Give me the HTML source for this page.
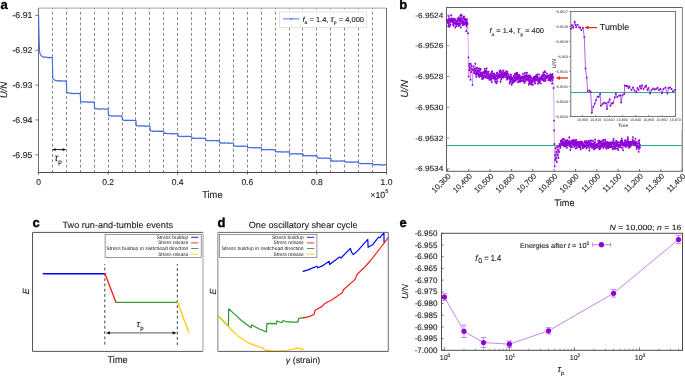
<!DOCTYPE html>
<html><head><meta charset="utf-8"><style>
html,body{margin:0;padding:0;background:#fff;}
svg{display:block;font-family:"Liberation Sans", sans-serif;will-change:transform;text-rendering:geometricPrecision;filter:blur(0.3px);}
text:not([font-weight]):not(.sm){stroke:#222;stroke-width:0.12px;}
</style></head><body>
<svg width="685" height="376" viewBox="0 0 685 376">
<text x="0.4" y="8.7" font-size="13" font-weight="bold" fill="#000" stroke="#000" stroke-width="0.35">a</text>
<line x1="52.50" y1="8.1" x2="52.50" y2="172.5" stroke="#777" stroke-width="0.9" stroke-dasharray="2.8 2.47" stroke-dashoffset="1.5"/>
<line x1="66.50" y1="8.1" x2="66.50" y2="172.5" stroke="#777" stroke-width="0.9" stroke-dasharray="2.8 2.47" stroke-dashoffset="1.5"/>
<line x1="80.50" y1="8.1" x2="80.50" y2="172.5" stroke="#777" stroke-width="0.9" stroke-dasharray="2.8 2.47" stroke-dashoffset="1.5"/>
<line x1="94.50" y1="8.1" x2="94.50" y2="172.5" stroke="#777" stroke-width="0.9" stroke-dasharray="2.8 2.47" stroke-dashoffset="1.5"/>
<line x1="108.50" y1="8.1" x2="108.50" y2="172.5" stroke="#777" stroke-width="0.9" stroke-dasharray="2.8 2.47" stroke-dashoffset="1.5"/>
<line x1="122.50" y1="8.1" x2="122.50" y2="172.5" stroke="#777" stroke-width="0.9" stroke-dasharray="2.8 2.47" stroke-dashoffset="1.5"/>
<line x1="135.50" y1="8.1" x2="135.50" y2="172.5" stroke="#777" stroke-width="0.9" stroke-dasharray="2.8 2.47" stroke-dashoffset="1.5"/>
<line x1="149.50" y1="8.1" x2="149.50" y2="172.5" stroke="#777" stroke-width="0.9" stroke-dasharray="2.8 2.47" stroke-dashoffset="1.5"/>
<line x1="163.50" y1="8.1" x2="163.50" y2="172.5" stroke="#777" stroke-width="0.9" stroke-dasharray="2.8 2.47" stroke-dashoffset="1.5"/>
<line x1="177.50" y1="8.1" x2="177.50" y2="172.5" stroke="#777" stroke-width="0.9" stroke-dasharray="2.8 2.47" stroke-dashoffset="1.5"/>
<line x1="191.50" y1="8.1" x2="191.50" y2="172.5" stroke="#777" stroke-width="0.9" stroke-dasharray="2.8 2.47" stroke-dashoffset="1.5"/>
<line x1="205.50" y1="8.1" x2="205.50" y2="172.5" stroke="#777" stroke-width="0.9" stroke-dasharray="2.8 2.47" stroke-dashoffset="1.5"/>
<line x1="219.50" y1="8.1" x2="219.50" y2="172.5" stroke="#777" stroke-width="0.9" stroke-dasharray="2.8 2.47" stroke-dashoffset="1.5"/>
<line x1="233.50" y1="8.1" x2="233.50" y2="172.5" stroke="#777" stroke-width="0.9" stroke-dasharray="2.8 2.47" stroke-dashoffset="1.5"/>
<line x1="247.50" y1="8.1" x2="247.50" y2="172.5" stroke="#777" stroke-width="0.9" stroke-dasharray="2.8 2.47" stroke-dashoffset="1.5"/>
<line x1="261.50" y1="8.1" x2="261.50" y2="172.5" stroke="#777" stroke-width="0.9" stroke-dasharray="2.8 2.47" stroke-dashoffset="1.5"/>
<line x1="275.50" y1="8.1" x2="275.50" y2="172.5" stroke="#777" stroke-width="0.9" stroke-dasharray="2.8 2.47" stroke-dashoffset="1.5"/>
<line x1="289.50" y1="8.1" x2="289.50" y2="172.5" stroke="#777" stroke-width="0.9" stroke-dasharray="2.8 2.47" stroke-dashoffset="1.5"/>
<line x1="302.50" y1="8.1" x2="302.50" y2="172.5" stroke="#777" stroke-width="0.9" stroke-dasharray="2.8 2.47" stroke-dashoffset="1.5"/>
<line x1="316.50" y1="8.1" x2="316.50" y2="172.5" stroke="#777" stroke-width="0.9" stroke-dasharray="2.8 2.47" stroke-dashoffset="1.5"/>
<line x1="330.50" y1="8.1" x2="330.50" y2="172.5" stroke="#777" stroke-width="0.9" stroke-dasharray="2.8 2.47" stroke-dashoffset="1.5"/>
<line x1="344.50" y1="8.1" x2="344.50" y2="172.5" stroke="#777" stroke-width="0.9" stroke-dasharray="2.8 2.47" stroke-dashoffset="1.5"/>
<line x1="358.50" y1="8.1" x2="358.50" y2="172.5" stroke="#777" stroke-width="0.9" stroke-dasharray="2.8 2.47" stroke-dashoffset="1.5"/>
<line x1="372.50" y1="8.1" x2="372.50" y2="172.5" stroke="#777" stroke-width="0.9" stroke-dasharray="2.8 2.47" stroke-dashoffset="1.5"/>
<rect x="279.5" y="12" width="87" height="15.5" fill="#fff" stroke="#d0d0d0" stroke-width="0.6"/>
<line x1="283" y1="18.9" x2="299.5" y2="18.9" stroke="#4169e1" stroke-width="0.9"/>
<circle cx="291.2" cy="18.9" r="0.8" fill="#4169e1"/>
<text x="302.5" y="21.7" font-size="7.2" fill="#222" textLength="61.5" lengthAdjust="spacingAndGlyphs"><tspan font-style="italic">f</tspan><tspan font-size="4.8" dy="2.3">a</tspan><tspan dy="-2.3"> = 1.4, </tspan><tspan font-style="italic" font-size="8.5">τ</tspan><tspan font-size="4.8" dy="2.3">p</tspan><tspan dy="-2.3"> = 4,000</tspan></text>
<line x1="38.5" y1="8.1" x2="386.5" y2="8.1" stroke="#b4b4b4" stroke-width="1.4"/>
<line x1="386.5" y1="8.1" x2="386.5" y2="172.5" stroke="#707070" stroke-width="1"/>
<line x1="38.5" y1="8.1" x2="38.5" y2="172.5" stroke="#707070" stroke-width="1"/>
<line x1="38.0" y1="172.5" x2="387.0" y2="172.5" stroke="#4a4a4a" stroke-width="1"/>
<path d="M38.60,14.80 L38.90,30.00 L39.20,42.00 L39.50,50.00 L39.80,52.60 L40.30,54.40 L41.20,55.80 L42.50,56.80 L43.00,56.99 L43.30,56.92 L43.60,57.24 L43.90,56.92 L44.20,57.22 L44.50,57.14 L44.80,56.98 L45.10,57.28 L45.40,57.02 L45.70,57.29 L46.00,57.09 L46.30,57.13 L46.60,57.35 L46.90,57.62 L47.20,57.22 L47.50,57.31 L47.80,57.58 L48.10,57.79 L48.40,57.60 L48.70,57.51 L49.00,57.89 L49.30,57.33 L49.60,57.82 L49.90,57.47 L50.20,57.39 L50.50,57.37 L50.80,57.49 L51.10,57.79 L51.40,57.41 L51.70,57.65 L52.00,57.68 L52.30,57.52 L52.82,78.73 L53.16,78.80 L53.50,79.10 L53.83,79.44 L54.17,79.94 L54.51,79.97 L54.85,80.05 L55.19,80.35 L55.52,80.38 L55.86,80.38 L56.20,80.75 L56.54,80.76 L56.88,80.54 L57.21,80.79 L57.55,80.80 L57.89,81.04 L58.23,80.98 L58.57,80.74 L58.90,81.18 L59.24,80.68 L59.58,80.87 L59.92,81.09 L60.26,80.74 L60.59,80.95 L60.93,80.68 L61.27,81.07 L61.61,81.13 L61.95,81.02 L62.28,81.21 L62.62,80.87 L62.96,81.10 L63.30,81.04 L63.64,81.04 L63.97,80.97 L64.31,81.20 L64.65,81.26 L64.99,80.98 L65.33,81.09 L65.66,80.73 L66.00,81.12 L66.34,81.09 L66.74,92.57 L67.08,92.66 L67.42,92.49 L67.75,92.69 L68.09,92.98 L68.43,92.69 L68.77,93.03 L69.11,92.92 L69.44,92.95 L69.78,92.97 L70.12,93.43 L70.46,93.09 L70.80,93.19 L71.13,93.30 L71.47,93.61 L71.81,93.15 L72.15,93.39 L72.49,93.46 L72.82,93.67 L73.16,93.64 L73.50,93.68 L73.84,93.33 L74.18,93.42 L74.51,93.39 L74.85,93.71 L75.19,93.76 L75.53,93.28 L75.87,93.29 L76.20,93.33 L76.54,93.33 L76.88,93.48 L77.22,93.55 L77.56,93.35 L77.89,93.20 L78.23,93.45 L78.57,93.42 L78.91,93.54 L79.25,93.77 L79.58,93.61 L79.92,93.51 L80.26,93.57 L80.66,101.45 L81.00,101.21 L81.34,101.83 L81.67,101.85 L82.01,101.99 L82.35,102.01 L82.69,101.83 L83.03,101.88 L83.36,101.74 L83.70,102.09 L84.04,101.78 L84.38,101.81 L84.72,101.91 L85.05,101.90 L85.39,102.02 L85.73,101.86 L86.07,101.84 L86.41,101.94 L86.74,101.92 L87.08,102.08 L87.42,101.89 L87.76,102.40 L88.10,102.25 L88.43,101.97 L88.77,102.04 L89.11,102.10 L89.45,102.11 L89.79,101.96 L90.12,102.40 L90.46,102.49 L90.80,102.17 L91.14,102.19 L91.48,101.95 L91.81,101.96 L92.15,102.10 L92.49,102.06 L92.83,102.40 L93.17,102.00 L93.50,101.91 L93.84,102.47 L94.18,102.22 L94.58,108.12 L94.92,108.46 L95.26,108.24 L95.59,108.61 L95.93,108.95 L96.27,108.93 L96.61,108.88 L96.95,108.65 L97.28,108.75 L97.62,108.65 L97.96,109.04 L98.30,108.92 L98.64,109.08 L98.97,108.82 L99.31,108.77 L99.65,109.13 L99.99,109.25 L100.33,109.17 L100.66,109.15 L101.00,109.16 L101.34,109.12 L101.68,108.82 L102.02,108.99 L102.35,108.90 L102.69,108.71 L103.03,108.71 L103.37,108.86 L103.71,108.85 L104.04,109.11 L104.38,109.27 L104.72,108.96 L105.06,109.26 L105.40,109.29 L105.73,109.27 L106.07,108.92 L106.41,108.83 L106.75,108.83 L107.09,108.82 L107.42,108.82 L107.76,109.07 L108.10,109.24 L108.50,115.52 L108.84,115.41 L109.18,115.60 L109.51,115.77 L109.85,115.40 L110.19,115.80 L110.53,116.00 L110.87,115.96 L111.20,115.97 L111.54,115.84 L111.88,115.68 L112.22,116.07 L112.56,115.81 L112.89,116.10 L113.23,116.22 L113.57,115.88 L113.91,115.89 L114.25,116.23 L114.58,116.10 L114.92,115.77 L115.26,115.75 L115.60,115.77 L115.94,116.23 L116.27,116.17 L116.61,115.78 L116.95,116.19 L117.29,116.28 L117.63,116.09 L117.96,115.90 L118.30,116.02 L118.64,115.77 L118.98,115.70 L119.32,116.28 L119.65,116.09 L119.99,116.01 L120.33,116.26 L120.67,115.96 L121.01,116.22 L121.34,116.19 L121.68,115.83 L122.02,115.85 L122.42,119.84 L122.76,119.88 L123.10,120.14 L123.43,120.00 L123.77,120.13 L124.11,119.99 L124.45,120.49 L124.79,120.18 L125.12,120.26 L125.46,120.36 L125.80,120.56 L126.14,120.29 L126.48,120.59 L126.81,120.35 L127.15,120.38 L127.49,120.38 L127.83,120.08 L128.17,120.34 L128.50,120.19 L128.84,120.08 L129.18,120.56 L129.52,120.19 L129.86,120.37 L130.19,120.53 L130.53,120.43 L130.87,120.29 L131.21,120.41 L131.55,120.43 L131.88,120.57 L132.22,120.16 L132.56,120.43 L132.90,120.25 L133.24,120.26 L133.57,120.56 L133.91,120.40 L134.25,120.44 L134.59,120.56 L134.93,120.65 L135.26,120.37 L135.60,120.47 L135.94,120.40 L136.34,125.46 L136.68,125.65 L137.02,125.58 L137.35,125.69 L137.69,125.71 L138.03,126.03 L138.37,125.92 L138.71,126.06 L139.04,126.12 L139.38,125.74 L139.72,125.93 L140.06,126.18 L140.40,126.13 L140.73,125.72 L141.07,125.72 L141.41,125.92 L141.75,125.71 L142.09,125.81 L142.42,125.72 L142.76,126.08 L143.10,126.15 L143.44,126.22 L143.78,125.78 L144.11,126.12 L144.45,126.09 L144.79,125.78 L145.13,126.22 L145.47,126.27 L145.80,125.83 L146.14,126.27 L146.48,125.94 L146.82,125.99 L147.16,126.29 L147.49,126.20 L147.83,125.80 L148.17,125.96 L148.51,126.01 L148.85,125.90 L149.18,125.82 L149.52,125.89 L149.86,126.13 L150.26,130.49 L150.60,130.89 L150.94,130.89 L151.27,130.70 L151.61,130.93 L151.95,131.15 L152.29,131.12 L152.63,130.88 L152.96,131.46 L153.30,131.36 L153.64,131.49 L153.98,130.98 L154.32,131.09 L154.65,130.97 L154.99,131.42 L155.33,131.12 L155.67,131.04 L156.01,131.22 L156.34,131.52 L156.68,131.47 L157.02,131.14 L157.36,131.07 L157.70,131.54 L158.03,131.33 L158.37,131.41 L158.71,131.05 L159.05,131.03 L159.39,131.41 L159.72,131.25 L160.06,131.04 L160.40,131.56 L160.74,131.38 L161.08,131.48 L161.41,131.05 L161.75,131.51 L162.09,131.04 L162.43,131.52 L162.77,131.27 L163.10,131.20 L163.44,131.33 L163.78,131.56 L164.18,133.32 L164.52,133.28 L164.86,133.55 L165.19,133.40 L165.53,133.35 L165.87,133.40 L166.21,133.34 L166.55,133.45 L166.88,133.53 L167.22,133.53 L167.56,133.81 L167.90,133.54 L168.24,133.67 L168.57,133.48 L168.91,133.59 L169.25,133.39 L169.59,133.53 L169.93,133.40 L170.26,133.83 L170.60,133.72 L170.94,133.51 L171.28,133.68 L171.62,133.96 L171.95,133.46 L172.29,133.89 L172.63,133.66 L172.97,133.69 L173.31,133.90 L173.64,133.63 L173.98,133.70 L174.32,133.81 L174.66,133.99 L175.00,133.60 L175.33,133.90 L175.67,133.82 L176.01,133.78 L176.35,133.64 L176.69,133.61 L177.02,133.43 L177.36,133.48 L177.70,133.44 L178.10,136.37 L178.44,136.12 L178.78,136.10 L179.11,136.09 L179.45,136.56 L179.79,136.60 L180.13,136.50 L180.47,136.28 L180.80,136.27 L181.14,136.32 L181.48,136.42 L181.82,136.25 L182.16,136.43 L182.49,136.33 L182.83,136.75 L183.17,136.76 L183.51,136.51 L183.85,136.33 L184.18,136.77 L184.52,136.37 L184.86,136.40 L185.20,136.19 L185.54,136.42 L185.87,136.48 L186.21,136.50 L186.55,136.32 L186.89,136.50 L187.23,136.20 L187.56,136.36 L187.90,136.25 L188.24,136.44 L188.58,136.22 L188.92,136.21 L189.25,136.38 L189.59,136.34 L189.93,136.55 L190.27,136.52 L190.61,136.65 L190.94,136.59 L191.28,136.63 L191.62,136.73 L192.02,138.06 L192.36,138.05 L192.70,138.46 L193.03,137.98 L193.37,138.34 L193.71,138.31 L194.05,137.96 L194.39,138.45 L194.72,138.49 L195.06,138.34 L195.40,138.41 L195.74,138.46 L196.08,138.06 L196.41,138.29 L196.75,138.29 L197.09,138.49 L197.43,138.47 L197.77,138.49 L198.10,138.34 L198.44,138.53 L198.78,138.40 L199.12,138.41 L199.46,138.13 L199.79,138.02 L200.13,138.08 L200.47,138.21 L200.81,138.06 L201.15,138.50 L201.48,138.33 L201.82,138.38 L202.16,138.37 L202.50,138.41 L202.84,138.29 L203.17,138.00 L203.51,138.48 L203.85,138.45 L204.19,138.30 L204.53,138.32 L204.86,138.40 L205.20,138.04 L205.54,138.44 L205.94,140.32 L206.28,140.25 L206.62,140.39 L206.95,140.70 L207.29,140.40 L207.63,140.74 L207.97,140.90 L208.31,140.62 L208.64,140.57 L208.98,140.64 L209.32,140.77 L209.66,140.82 L210.00,140.74 L210.33,140.76 L210.67,140.42 L211.01,140.47 L211.35,140.54 L211.69,140.83 L212.02,140.57 L212.36,140.73 L212.70,140.40 L213.04,140.43 L213.38,140.56 L213.71,140.80 L214.05,140.81 L214.39,140.80 L214.73,140.57 L215.07,140.71 L215.40,140.68 L215.74,140.68 L216.08,140.47 L216.42,140.93 L216.76,140.52 L217.09,140.99 L217.43,140.96 L217.77,140.41 L218.11,140.67 L218.45,140.89 L218.78,140.98 L219.12,140.67 L219.46,140.56 L219.86,142.69 L220.20,143.17 L220.54,142.76 L220.87,143.01 L221.21,142.77 L221.55,143.01 L221.89,143.29 L222.23,142.81 L222.56,143.23 L222.90,143.05 L223.24,143.29 L223.58,143.19 L223.92,142.91 L224.25,143.31 L224.59,143.07 L224.93,142.80 L225.27,142.79 L225.61,143.08 L225.94,143.06 L226.28,142.97 L226.62,142.88 L226.96,143.00 L227.30,142.98 L227.63,143.30 L227.97,142.80 L228.31,143.25 L228.65,143.30 L228.99,142.87 L229.32,143.35 L229.66,143.23 L230.00,143.34 L230.34,142.97 L230.68,143.02 L231.01,143.03 L231.35,143.40 L231.69,143.15 L232.03,143.02 L232.37,143.06 L232.70,142.96 L233.04,142.83 L233.38,142.86 L233.78,146.10 L234.12,145.81 L234.46,146.24 L234.79,145.87 L235.13,145.90 L235.47,146.08 L235.81,145.90 L236.15,146.03 L236.48,146.39 L236.82,146.36 L237.16,146.33 L237.50,146.23 L237.84,146.41 L238.17,146.43 L238.51,146.20 L238.85,146.31 L239.19,145.91 L239.53,146.32 L239.86,146.16 L240.20,146.34 L240.54,146.28 L240.88,146.06 L241.22,145.92 L241.55,146.45 L241.89,145.97 L242.23,146.18 L242.57,146.10 L242.91,146.08 L243.24,146.34 L243.58,146.48 L243.92,146.05 L244.26,146.29 L244.60,146.08 L244.93,146.23 L245.27,146.14 L245.61,146.00 L245.95,146.00 L246.29,146.02 L246.62,146.44 L246.96,146.20 L247.30,146.03 L247.70,147.84 L248.04,147.92 L248.38,147.61 L248.71,147.44 L249.05,147.49 L249.39,147.44 L249.73,147.60 L250.07,147.46 L250.40,147.55 L250.74,147.57 L251.08,147.76 L251.42,147.96 L251.76,147.88 L252.09,147.68 L252.43,147.68 L252.77,147.75 L253.11,147.67 L253.45,147.64 L253.78,147.48 L254.12,147.61 L254.46,148.03 L254.80,147.52 L255.14,147.75 L255.47,147.82 L255.81,147.97 L256.15,147.58 L256.49,147.61 L256.83,147.60 L257.16,147.69 L257.50,147.72 L257.84,148.02 L258.18,147.96 L258.52,147.97 L258.85,147.46 L259.19,147.47 L259.53,147.88 L259.87,147.99 L260.21,147.73 L260.54,147.80 L260.88,147.45 L261.22,147.68 L261.62,149.76 L261.96,149.73 L262.30,149.78 L262.63,149.87 L262.97,149.45 L263.31,149.38 L263.65,149.42 L263.99,149.65 L264.32,149.76 L264.66,149.92 L265.00,149.80 L265.34,149.76 L265.68,149.83 L266.01,149.65 L266.35,149.71 L266.69,149.41 L267.03,149.86 L267.37,149.53 L267.70,149.94 L268.04,149.78 L268.38,149.58 L268.72,149.47 L269.06,149.55 L269.39,149.78 L269.73,149.82 L270.07,149.46 L270.41,149.44 L270.75,149.71 L271.08,149.75 L271.42,149.63 L271.76,149.53 L272.10,149.76 L272.44,149.41 L272.77,149.58 L273.11,149.68 L273.45,149.97 L273.79,149.79 L274.13,149.93 L274.46,149.68 L274.80,149.54 L275.14,149.55 L275.54,151.96 L275.88,151.84 L276.22,151.63 L276.55,151.48 L276.89,151.79 L277.23,151.91 L277.57,151.77 L277.91,151.69 L278.24,151.94 L278.58,152.11 L278.92,151.70 L279.26,151.59 L279.60,151.77 L279.93,151.83 L280.27,151.99 L280.61,151.70 L280.95,152.06 L281.29,152.03 L281.62,151.89 L281.96,151.71 L282.30,152.17 L282.64,151.78 L282.98,152.09 L283.31,151.73 L283.65,151.73 L283.99,152.05 L284.33,151.77 L284.67,152.17 L285.00,151.90 L285.34,151.71 L285.68,151.73 L286.02,151.85 L286.36,152.00 L286.69,152.17 L287.03,151.69 L287.37,151.84 L287.71,151.73 L288.05,152.18 L288.38,151.68 L288.72,151.63 L289.06,151.64 L289.46,153.64 L289.80,153.97 L290.14,153.99 L290.47,153.92 L290.81,154.10 L291.15,154.07 L291.49,153.73 L291.83,153.65 L292.16,154.11 L292.50,154.00 L292.84,153.58 L293.18,153.97 L293.52,153.80 L293.85,153.80 L294.19,153.78 L294.53,153.69 L294.87,153.59 L295.21,153.76 L295.54,153.80 L295.88,154.17 L296.22,153.67 L296.56,154.17 L296.90,153.72 L297.23,153.81 L297.57,154.09 L297.91,154.09 L298.25,153.86 L298.59,153.63 L298.92,153.88 L299.26,153.82 L299.60,154.15 L299.94,153.71 L300.28,153.82 L300.61,154.14 L300.95,153.62 L301.29,153.85 L301.63,154.09 L301.97,154.06 L302.30,153.62 L302.64,153.62 L302.98,153.64 L303.38,155.78 L303.72,155.40 L304.06,155.72 L304.39,155.83 L304.73,155.51 L305.07,155.49 L305.41,155.91 L305.75,155.72 L306.08,155.51 L306.42,155.79 L306.76,155.56 L307.10,155.54 L307.44,155.38 L307.77,155.83 L308.11,155.93 L308.45,155.77 L308.79,155.95 L309.13,155.40 L309.46,155.53 L309.80,155.68 L310.14,155.97 L310.48,155.97 L310.82,155.63 L311.15,155.55 L311.49,155.65 L311.83,155.69 L312.17,155.95 L312.51,155.51 L312.84,155.88 L313.18,155.84 L313.52,155.89 L313.86,155.86 L314.20,155.76 L314.53,155.60 L314.87,155.59 L315.21,155.62 L315.55,155.87 L315.89,155.45 L316.22,155.52 L316.56,155.85 L316.90,155.55 L317.30,157.69 L317.64,157.71 L317.98,158.06 L318.31,157.95 L318.65,158.36 L318.99,158.32 L319.33,158.40 L319.67,157.98 L320.00,157.89 L320.34,157.90 L320.68,158.15 L321.02,158.29 L321.36,158.14 L321.69,158.01 L322.03,158.13 L322.37,158.25 L322.71,158.29 L323.05,158.33 L323.38,158.40 L323.72,158.29 L324.06,157.96 L324.40,158.40 L324.74,158.07 L325.07,158.24 L325.41,158.12 L325.75,158.34 L326.09,158.02 L326.43,158.05 L326.76,158.05 L327.10,157.99 L327.44,158.43 L327.78,158.25 L328.12,158.09 L328.45,158.14 L328.79,158.49 L329.13,158.20 L329.47,158.04 L329.81,158.38 L330.14,158.29 L330.48,158.49 L330.82,157.96 L331.22,160.80 L331.56,161.05 L331.90,161.10 L332.23,161.18 L332.57,160.68 L332.91,160.85 L333.25,160.77 L333.59,160.83 L333.92,161.31 L334.26,161.09 L334.60,161.31 L334.94,160.98 L335.28,161.28 L335.61,161.04 L335.95,160.93 L336.29,161.24 L336.63,161.35 L336.97,160.85 L337.30,161.14 L337.64,161.16 L337.98,160.92 L338.32,161.01 L338.66,160.88 L338.99,160.92 L339.33,160.95 L339.67,161.16 L340.01,161.19 L340.35,160.92 L340.68,160.80 L341.02,160.99 L341.36,161.21 L341.70,160.91 L342.04,160.99 L342.37,160.92 L342.71,161.28 L343.05,161.13 L343.39,160.84 L343.73,160.86 L344.06,161.04 L344.40,161.13 L344.74,161.18 L345.14,161.76 L345.48,161.82 L345.82,162.15 L346.15,161.99 L346.49,161.92 L346.83,161.94 L347.17,162.34 L347.51,161.96 L347.84,162.11 L348.18,161.99 L348.52,162.03 L348.86,162.30 L349.20,162.39 L349.53,162.01 L349.87,161.91 L350.21,162.23 L350.55,161.92 L350.89,161.80 L351.22,162.34 L351.56,162.05 L351.90,162.29 L352.24,162.04 L352.58,162.33 L352.91,162.07 L353.25,161.90 L353.59,161.81 L353.93,162.13 L354.27,162.18 L354.60,162.35 L354.94,161.85 L355.28,162.17 L355.62,162.02 L355.96,162.10 L356.29,161.89 L356.63,161.97 L356.97,162.11 L357.31,162.36 L357.65,161.87 L357.98,162.09 L358.32,162.28 L358.66,162.38 L359.06,163.27 L359.40,163.25 L359.74,163.76 L360.07,163.80 L360.41,163.51 L360.75,163.27 L361.09,163.80 L361.43,163.49 L361.76,163.80 L362.10,163.64 L362.44,163.77 L362.78,163.37 L363.12,163.75 L363.45,163.42 L363.79,163.53 L364.13,163.80 L364.47,163.79 L364.81,163.40 L365.14,163.42 L365.48,163.53 L365.82,163.61 L366.16,163.53 L366.50,163.37 L366.83,163.45 L367.17,163.73 L367.51,163.84 L367.85,163.32 L368.19,163.64 L368.52,163.75 L368.86,163.32 L369.20,163.80 L369.54,163.37 L369.88,163.66 L370.21,163.63 L370.55,163.68 L370.89,163.48 L371.23,163.55 L371.57,163.65 L371.90,163.56 L372.24,163.70 L372.58,163.57 L372.98,164.65 L373.29,164.41 L373.61,164.79 L373.92,164.72 L374.23,164.58 L374.54,164.90 L374.86,164.92 L375.17,164.74 L375.48,164.57 L375.80,164.76 L376.11,164.54 L376.42,164.56 L376.74,164.74 L377.05,164.54 L377.36,164.75 L377.67,164.79 L377.99,164.51 L378.30,164.87 L378.61,164.54 L378.93,164.93 L379.24,164.96 L379.55,164.80 L379.87,164.53 L380.18,164.80 L380.49,164.72 L380.80,165.07 L381.12,164.58 L381.43,165.01 L381.74,165.10 L382.06,164.94 L382.37,164.99 L382.68,164.62 L383.00,165.09 L383.31,164.79 L383.62,165.07 L383.94,165.05 L384.25,164.60 L384.56,164.97 L384.87,165.06 L385.19,164.54 L385.50,164.71" fill="none" stroke="#4169e1" stroke-width="1.1" stroke-linejoin="round" stroke-linecap="round" />
<line x1="35.3" y1="15.40" x2="38.5" y2="15.40" stroke="#707070" stroke-width="0.9"/>
<text x="32.4" y="18.15" font-size="8.5" fill="#222" text-anchor="end" textLength="20.0" lengthAdjust="spacingAndGlyphs" >-6.91</text>
<line x1="35.3" y1="50.25" x2="38.5" y2="50.25" stroke="#707070" stroke-width="0.9"/>
<text x="32.4" y="53.00" font-size="8.5" fill="#222" text-anchor="end" textLength="20.0" lengthAdjust="spacingAndGlyphs" >-6.92</text>
<line x1="35.3" y1="85.10" x2="38.5" y2="85.10" stroke="#707070" stroke-width="0.9"/>
<text x="32.4" y="87.85" font-size="8.5" fill="#222" text-anchor="end" textLength="20.0" lengthAdjust="spacingAndGlyphs" >-6.93</text>
<line x1="35.3" y1="119.95" x2="38.5" y2="119.95" stroke="#707070" stroke-width="0.9"/>
<text x="32.4" y="122.70" font-size="8.5" fill="#222" text-anchor="end" textLength="20.0" lengthAdjust="spacingAndGlyphs" >-6.94</text>
<line x1="35.3" y1="154.80" x2="38.5" y2="154.80" stroke="#707070" stroke-width="0.9"/>
<text x="32.4" y="157.55" font-size="8.5" fill="#222" text-anchor="end" textLength="20.0" lengthAdjust="spacingAndGlyphs" >-6.95</text>
<line x1="38.50" y1="172.5" x2="38.50" y2="174.5" stroke="#4a4a4a" stroke-width="0.9"/>
<text x="38.50" y="185" font-size="8.5" fill="#222" text-anchor="middle" >0</text>
<line x1="108.10" y1="172.5" x2="108.10" y2="174.5" stroke="#4a4a4a" stroke-width="0.9"/>
<text x="108.10" y="185" font-size="8.5" fill="#222" text-anchor="middle" >0.2</text>
<line x1="177.70" y1="172.5" x2="177.70" y2="174.5" stroke="#4a4a4a" stroke-width="0.9"/>
<text x="177.70" y="185" font-size="8.5" fill="#222" text-anchor="middle" >0.4</text>
<line x1="247.30" y1="172.5" x2="247.30" y2="174.5" stroke="#4a4a4a" stroke-width="0.9"/>
<text x="247.30" y="185" font-size="8.5" fill="#222" text-anchor="middle" >0.6</text>
<line x1="316.90" y1="172.5" x2="316.90" y2="174.5" stroke="#4a4a4a" stroke-width="0.9"/>
<text x="316.90" y="185" font-size="8.5" fill="#222" text-anchor="middle" >0.8</text>
<line x1="386.50" y1="172.5" x2="386.50" y2="174.5" stroke="#4a4a4a" stroke-width="0.9"/>
<text x="386.50" y="185" font-size="8.5" fill="#222" text-anchor="middle" >1.0</text>
<text x="202.2" y="197.9" font-size="9.9" fill="#222" text-anchor="start" textLength="20.4" lengthAdjust="spacingAndGlyphs" >Time</text>
<text x="370.3" y="197.9" font-size="8.8" fill="#222">×10<tspan font-size="5.8" dy="-4.7">5</tspan></text>
<text transform="translate(6.8,90.1) rotate(-90)" font-size="9.5" font-style="italic" fill="#222" text-anchor="middle">U/N</text>
<line x1="54" y1="149.6" x2="64.5" y2="149.6" stroke="#000" stroke-width="0.9"/>
<path d="M52.2,149.6 L55.6,148.2 L55.6,151 Z M66.1,149.6 L62.7,148.2 L62.7,151 Z" fill="#000"/>
<text x="54.5" y="161.1" font-size="10" font-style="italic" fill="#111">τ<tspan font-style="normal" font-size="6.4" dy="2.6">p</tspan></text>
<text x="399.3" y="9" font-size="13" font-weight="bold" fill="#000" stroke="#000" stroke-width="0.35">b</text>
<rect x="446.5" y="7.5" width="235.70000000000005" height="163.8" fill="none" stroke="#606060" stroke-width="1"/>
<line x1="446.5" y1="145.5" x2="682.2" y2="145.5" stroke="#2fa88e" stroke-width="1.1"/>
<path d="M447.00,19.78 L447.19,20.23 L447.38,20.22 L447.57,20.78 L447.76,22.92 L447.95,20.63 L448.14,21.32 L448.33,26.51 L448.52,16.07 L448.71,25.31 L448.90,23.72 L449.09,19.55 L449.28,19.29 L449.47,18.50 L449.66,26.85 L449.85,19.71 L450.04,19.70 L450.23,21.81 L450.42,25.05 L450.61,22.02 L450.80,20.62 L450.99,19.72 L451.18,15.22 L451.37,18.64 L451.56,20.79 L451.75,21.17 L451.94,18.81 L452.13,19.63 L452.32,21.68 L452.51,19.88 L452.70,20.72 L452.89,22.46 L453.08,24.43 L453.27,19.95 L453.46,18.60 L453.65,25.75 L453.84,22.67 L454.03,23.65 L454.22,18.60 L454.41,22.83 L454.60,22.33 L454.79,20.83 L454.98,19.29 L455.17,20.32 L455.36,27.53 L455.55,23.09 L455.74,23.04 L455.93,24.03 L456.12,22.96 L456.31,22.23 L456.50,26.16 L456.69,22.09 L456.88,20.77 L457.07,24.15 L457.26,24.27 L457.45,18.61 L457.64,23.32 L457.83,20.07 L458.02,19.99 L458.21,23.97 L458.40,23.39 L458.59,26.03 L458.78,17.33 L458.97,19.96 L459.16,20.68 L459.35,18.59 L459.54,25.31 L459.73,21.39 L459.92,21.47 L460.11,23.64 L460.30,15.43 L460.49,19.33 L460.68,20.23 L460.87,27.48 L461.06,18.55 L461.25,14.82 L461.44,21.46 L461.63,15.52 L461.82,21.60 L462.01,18.91 L462.20,23.59 L462.39,23.41 L462.58,21.28 L462.77,25.09 L462.96,22.47 L463.15,21.50 L463.34,17.76 L463.53,17.04 L463.72,22.83 L463.91,24.70 L464.10,16.39 L464.29,24.00 L464.48,19.26 L464.67,23.64 L464.86,22.96 L465.05,18.85 L465.24,18.64 L465.43,20.46 L465.62,22.79 L465.81,20.29 L466.00,24.34 L466.19,22.31 L466.38,25.94 L466.57,23.37 L466.76,21.31 L466.95,19.29 L467.14,22.95 L467.33,23.62 L466.30,31.30 L467.60,24.00 L468.00,33.30 L468.50,57.40 L468.60,76.60 L469.00,66.00 L469.30,63.80 L469.60,70.00 L470.00,68.00 L470.50,79.80 L470.80,64.00 L471.20,72.00 L471.60,66.00 L472.00,69.00 L472.50,85.10 L473.00,70.00 L473.50,66.50 L474.00,72.00 L474.30,73.21 L474.49,69.36 L474.68,69.16 L474.87,68.81 L475.06,70.61 L475.25,63.63 L475.44,71.36 L475.63,71.01 L475.82,73.83 L476.01,74.82 L476.20,77.10 L476.39,72.74 L476.58,68.09 L476.77,73.86 L476.96,74.36 L477.15,67.70 L477.34,70.15 L477.53,73.26 L477.72,71.29 L477.91,71.79 L478.10,74.31 L478.29,71.01 L478.48,76.09 L478.67,75.42 L478.86,71.26 L479.05,68.54 L479.24,74.16 L479.43,76.95 L479.62,69.01 L479.81,75.42 L480.00,69.80 L480.19,75.56 L480.38,72.45 L480.57,75.90 L480.76,68.88 L480.95,75.06 L481.14,76.15 L481.33,73.46 L481.52,75.09 L481.71,73.53 L481.90,78.85 L482.09,76.62 L482.28,75.17 L482.47,72.75 L482.66,79.09 L482.85,76.79 L483.04,75.98 L483.23,77.72 L483.42,71.95 L483.61,72.41 L483.80,77.60 L483.99,76.79 L484.18,73.19 L484.37,72.26 L484.56,74.92 L484.75,68.69 L484.94,70.11 L485.13,71.32 L485.32,72.03 L485.51,77.50 L485.70,76.03 L485.89,70.58 L486.08,73.03 L486.27,75.50 L486.46,72.15 L486.65,68.37 L486.84,77.48 L487.03,71.62 L487.22,73.78 L487.41,74.65 L487.60,78.13 L487.79,73.58 L487.98,77.14 L488.17,73.58 L488.36,73.93 L488.55,71.71 L488.74,77.25 L488.93,77.94 L489.12,76.53 L489.31,79.81 L489.50,75.30 L489.69,77.22 L489.88,75.27 L490.07,76.56 L490.26,76.19 L490.45,78.95 L490.64,74.01 L490.83,79.94 L491.02,76.34 L491.21,78.92 L491.40,72.42 L491.59,76.08 L491.78,82.23 L491.97,78.31 L492.16,71.32 L492.35,75.85 L492.54,74.91 L492.73,73.42 L492.92,74.08 L493.11,76.98 L493.30,76.19 L493.49,76.11 L493.68,77.93 L493.87,78.73 L494.06,77.13 L494.25,73.34 L494.44,73.88 L494.63,78.41 L494.82,74.64 L495.01,81.32 L495.20,77.10 L495.39,78.66 L495.58,76.31 L495.77,78.87 L495.96,82.46 L496.15,79.02 L496.34,75.60 L496.53,83.23 L496.72,75.05 L496.91,72.69 L497.10,72.77 L497.29,81.48 L497.48,76.28 L497.67,78.48 L497.86,75.54 L498.05,77.72 L498.24,76.27 L498.43,76.39 L498.62,75.93 L498.81,73.93 L499.00,76.18 L499.19,76.29 L499.38,71.11 L499.57,77.19 L499.76,75.27 L499.95,72.52 L500.14,76.54 L500.33,70.19 L500.52,81.76 L500.71,74.87 L500.90,74.88 L501.09,71.76 L501.28,79.51 L501.47,77.22 L501.66,73.90 L501.85,77.59 L502.04,76.24 L502.23,73.09 L502.42,72.99 L502.61,75.16 L502.80,74.18 L502.99,70.53 L503.18,76.40 L503.37,77.79 L503.56,70.91 L503.75,76.10 L503.94,73.40 L504.13,76.63 L504.32,76.36 L504.51,75.10 L504.70,72.68 L504.89,75.07 L505.08,74.25 L505.27,73.31 L505.46,74.96 L505.65,74.00 L505.84,75.39 L506.03,77.36 L506.22,71.21 L506.41,74.72 L506.60,73.02 L506.79,76.17 L506.98,79.47 L507.17,79.32 L507.36,71.69 L507.55,78.05 L507.74,77.48 L507.93,74.21 L508.12,76.35 L508.31,78.31 L508.50,74.08 L508.69,77.49 L508.88,78.36 L509.07,76.20 L509.26,78.06 L509.45,78.35 L509.64,83.54 L509.83,82.14 L510.02,79.70 L510.21,77.32 L510.40,77.46 L510.59,81.00 L510.78,74.39 L510.97,78.20 L511.16,75.90 L511.35,79.55 L511.54,84.79 L511.73,77.70 L511.92,78.94 L512.11,77.67 L512.30,82.33 L512.49,83.23 L512.68,78.71 L512.87,80.85 L513.06,79.35 L513.25,81.97 L513.44,80.84 L513.63,75.85 L513.82,80.44 L514.01,76.52 L514.20,76.98 L514.39,81.36 L514.58,73.91 L514.77,81.45 L514.96,78.32 L515.15,77.42 L515.34,80.46 L515.53,80.52 L515.72,73.94 L515.91,75.43 L516.10,77.77 L516.29,79.02 L516.48,72.78 L516.67,79.70 L516.86,73.83 L517.05,77.50 L517.24,74.97 L517.43,73.17 L517.62,79.26 L517.81,76.26 L518.00,82.14 L518.19,77.47 L518.38,75.44 L518.57,78.07 L518.76,82.06 L518.95,75.08 L519.14,80.88 L519.33,76.57 L519.52,75.16 L519.71,76.07 L519.90,78.24 L520.09,79.43 L520.28,81.77 L520.47,80.39 L520.66,79.35 L520.85,78.30 L521.04,77.99 L521.23,80.70 L521.42,76.99 L521.61,76.83 L521.80,78.08 L521.99,80.81 L522.18,77.11 L522.37,78.20 L522.56,76.35 L522.75,78.07 L522.94,73.73 L523.13,80.42 L523.32,81.22 L523.51,80.08 L523.70,77.07 L523.89,79.74 L524.08,77.71 L524.27,76.43 L524.46,83.08 L524.65,81.89 L524.84,72.96 L525.03,75.57 L525.22,78.18 L525.41,77.02 L525.60,79.44 L525.79,81.09 L525.98,76.00 L526.17,78.53 L526.36,75.28 L526.55,72.58 L526.74,79.25 L526.93,72.59 L527.12,76.62 L527.31,75.70 L527.50,79.74 L527.69,79.64 L527.88,78.28 L528.07,79.56 L528.26,77.73 L528.45,76.38 L528.64,80.15 L528.83,84.87 L529.02,75.28 L529.21,81.65 L529.40,83.43 L529.59,77.08 L529.78,80.41 L529.97,77.11 L530.16,78.49 L530.35,80.32 L530.54,76.05 L530.73,83.75 L530.92,82.12 L531.11,81.23 L531.30,77.59 L531.49,82.29 L531.68,84.37 L531.87,84.61 L532.06,82.34 L532.25,78.58 L532.44,80.03 L532.63,81.34 L532.82,84.83 L533.01,79.46 L533.20,80.89 L533.39,79.09 L533.58,77.34 L533.77,79.38 L533.96,77.23 L534.15,79.50 L534.34,76.72 L534.53,82.08 L534.72,78.66 L534.91,78.73 L535.10,83.53 L535.29,77.67 L535.48,79.91 L535.67,77.06 L535.86,80.63 L536.05,75.78 L536.24,75.38 L536.43,79.48 L536.62,75.84 L536.81,77.57 L537.00,76.33 L537.19,74.49 L537.38,78.74 L537.57,77.41 L537.76,77.63 L537.95,83.79 L538.14,80.20 L538.33,81.20 L538.52,79.11 L538.71,79.62 L538.90,81.74 L539.09,74.36 L539.28,82.51 L539.47,81.28 L539.66,80.92 L539.85,78.38 L540.04,78.48 L540.23,78.48 L540.42,78.39 L540.61,79.86 L540.80,83.46 L540.99,78.96 L541.18,76.97 L541.37,79.36 L541.56,77.04 L541.75,77.23 L541.94,75.67 L542.13,79.14 L542.32,78.41 L542.51,79.49 L542.70,78.77 L542.89,74.57 L543.08,80.35 L543.27,76.06 L543.46,72.52 L543.65,79.39 L543.84,75.15 L544.03,80.94 L544.22,74.89 L544.41,79.58 L544.60,79.26 L544.79,71.26 L544.98,72.33 L545.17,78.39 L545.36,76.50 L545.55,80.74 L545.74,75.90 L545.93,77.37 L546.12,78.42 L546.31,77.51 L546.50,77.02 L546.69,76.82 L546.88,73.37 L547.07,77.90 L547.26,76.50 L547.45,76.02 L547.64,75.53 L547.83,75.52 L548.02,76.17 L548.21,76.15 L548.40,80.16 L548.59,79.36 L548.78,76.48 L548.97,80.13 L549.16,76.70 L549.35,78.08 L549.54,79.54 L549.73,78.78 L549.92,78.95 L550.11,74.41 L550.30,75.32 L550.49,80.96 L550.68,77.41 L550.87,74.41 L551.06,78.03 L551.25,79.38 L551.44,78.30 L551.63,76.51 L551.82,75.02 L552.01,75.06 L552.20,83.43 L552.39,80.07 L552.58,76.69 L552.77,74.12 L552.96,77.44 L553.15,77.52 L553.60,88.00 L554.00,120.60 L554.20,130.50 L554.40,144.00 L554.60,166.40 L555.00,155.00 L555.30,160.00 L555.70,148.00 L556.00,158.00 L556.40,152.00 L556.80,162.00 L557.20,147.00 L557.60,155.00 L558.00,150.00 L558.40,158.00 L558.80,146.00 L559.20,152.00 L559.60,144.00 L560.00,145.65 L560.19,143.83 L560.38,146.82 L560.57,147.71 L560.76,141.12 L560.95,141.76 L561.14,140.34 L561.33,141.63 L561.52,140.70 L561.71,143.96 L561.90,144.45 L562.09,141.33 L562.28,144.14 L562.47,142.73 L562.66,139.04 L562.85,142.33 L563.04,144.48 L563.23,141.63 L563.42,145.53 L563.61,144.89 L563.80,138.86 L563.99,143.42 L564.18,145.51 L564.37,146.38 L564.56,143.23 L564.75,142.91 L564.94,140.26 L565.13,143.96 L565.32,146.41 L565.51,144.11 L565.70,142.68 L565.89,142.15 L566.08,141.32 L566.27,142.93 L566.46,140.97 L566.65,145.76 L566.84,147.80 L567.03,140.16 L567.22,144.59 L567.41,144.90 L567.60,140.41 L567.79,142.45 L567.98,144.17 L568.17,143.14 L568.36,142.01 L568.55,145.00 L568.74,142.95 L568.93,143.44 L569.12,141.51 L569.31,137.32 L569.50,142.69 L569.69,146.21 L569.88,144.00 L570.07,145.75 L570.26,141.60 L570.45,150.03 L570.64,143.13 L570.83,145.73 L571.02,146.94 L571.21,143.67 L571.40,141.05 L571.59,142.36 L571.78,143.60 L571.97,147.18 L572.16,141.22 L572.35,141.64 L572.54,144.02 L572.73,141.93 L572.92,144.21 L573.11,142.32 L573.30,139.82 L573.49,143.07 L573.68,140.86 L573.87,140.82 L574.06,145.00 L574.25,146.91 L574.44,142.47 L574.63,144.22 L574.82,145.73 L575.01,140.36 L575.20,144.57 L575.39,144.11 L575.58,141.76 L575.77,148.59 L575.96,141.86 L576.15,139.59 L576.34,143.10 L576.53,145.52 L576.72,141.37 L576.91,147.78 L577.10,143.17 L577.29,144.40 L577.48,144.12 L577.67,142.79 L577.86,142.68 L578.05,142.50 L578.24,143.58 L578.43,146.71 L578.62,144.92 L578.81,145.45 L579.00,144.27 L579.19,141.60 L579.38,147.06 L579.57,145.09 L579.76,142.96 L579.95,145.37 L580.14,142.42 L580.33,146.83 L580.52,147.69 L580.71,149.43 L580.90,143.36 L581.09,143.75 L581.28,141.52 L581.47,141.74 L581.66,145.02 L581.85,142.48 L582.04,142.79 L582.23,143.22 L582.42,147.76 L582.61,145.74 L582.80,142.33 L582.99,143.90 L583.18,147.88 L583.37,146.75 L583.56,145.74 L583.75,145.84 L583.94,144.51 L584.13,145.28 L584.32,146.75 L584.51,146.40 L584.70,141.93 L584.89,141.26 L585.08,146.19 L585.27,145.71 L585.46,142.87 L585.65,146.47 L585.84,142.70 L586.03,142.69 L586.22,143.35 L586.41,148.51 L586.60,140.86 L586.79,145.00 L586.98,146.28 L587.17,147.08 L587.36,145.45 L587.55,143.60 L587.74,142.18 L587.93,142.98 L588.12,146.02 L588.31,144.59 L588.50,140.95 L588.69,145.37 L588.88,142.10 L589.07,145.50 L589.26,148.06 L589.45,150.65 L589.64,144.15 L589.83,142.73 L590.02,140.33 L590.21,146.03 L590.40,144.28 L590.59,143.77 L590.78,140.61 L590.97,143.09 L591.16,146.64 L591.35,146.34 L591.54,144.53 L591.73,144.31 L591.92,140.56 L592.11,147.97 L592.30,144.44 L592.49,144.39 L592.68,145.92 L592.87,145.78 L593.06,146.07 L593.25,141.11 L593.44,146.54 L593.63,144.17 L593.82,143.70 L594.01,149.41 L594.20,147.14 L594.39,148.39 L594.58,142.79 L594.77,147.48 L594.96,142.43 L595.15,139.43 L595.34,145.64 L595.53,145.49 L595.72,145.12 L595.91,148.16 L596.10,144.77 L596.29,146.77 L596.48,145.34 L596.67,144.39 L596.86,144.41 L597.05,146.90 L597.24,144.75 L597.43,147.13 L597.62,145.75 L597.81,144.94 L598.00,143.52 L598.19,140.63 L598.38,143.15 L598.57,146.06 L598.76,145.80 L598.95,143.33 L599.14,148.46 L599.33,140.70 L599.52,149.35 L599.71,142.03 L599.90,146.89 L600.09,143.54 L600.28,147.55 L600.47,148.33 L600.66,145.58 L600.85,143.10 L601.04,141.13 L601.23,141.72 L601.42,144.89 L601.61,146.63 L601.80,144.25 L601.99,143.29 L602.18,146.42 L602.37,144.56 L602.56,144.67 L602.75,143.90 L602.94,140.20 L603.13,141.84 L603.32,147.93 L603.51,143.86 L603.70,146.28 L603.89,139.78 L604.08,143.12 L604.27,146.52 L604.46,142.88 L604.65,144.84 L604.84,146.26 L605.03,143.32 L605.22,139.64 L605.41,144.16 L605.60,144.16 L605.79,141.73 L605.98,147.80 L606.17,144.07 L606.36,143.07 L606.55,148.81 L606.74,144.90 L606.93,142.04 L607.12,146.64 L607.31,146.91 L607.50,145.83 L607.69,143.10 L607.88,145.26 L608.07,142.44 L608.26,148.01 L608.45,145.87 L608.64,144.20 L608.83,144.49 L609.02,147.55 L609.21,146.49 L609.40,143.90 L609.59,144.90 L609.78,145.81 L609.97,142.42 L610.16,142.48 L610.35,143.88 L610.54,147.29 L610.73,145.32 L610.92,143.84 L611.11,143.30 L611.30,143.79 L611.49,147.04 L611.68,145.24 L611.87,146.98 L612.06,142.29 L612.25,142.79 L612.44,142.87 L612.63,143.02 L612.82,149.22 L613.01,148.90 L613.20,140.86 L613.39,146.88 L613.58,139.04 L613.77,144.30 L613.96,144.22 L614.15,143.13 L614.34,148.58 L614.53,143.05 L614.72,147.37 L614.91,142.14 L615.10,145.28 L615.29,148.08 L615.48,148.18 L615.67,148.81 L615.86,145.93 L616.05,142.94 L616.24,140.71 L616.43,144.80 L616.62,146.02 L616.81,144.29 L617.00,143.73 L617.19,148.74 L617.38,142.18 L617.57,144.52 L617.76,142.37 L617.95,142.19 L618.14,145.83 L618.33,150.05 L618.52,144.39 L618.71,146.93 L618.90,145.20 L619.09,145.89 L619.28,144.79 L619.47,145.07 L619.66,145.83 L619.85,144.52 L620.04,142.31 L620.23,146.96 L620.42,147.29 L620.61,142.43 L620.80,143.62 L620.99,141.75 L621.18,140.59 L621.37,140.89 L621.56,145.01 L621.75,138.79 L621.94,142.60 L622.13,147.93 L622.32,140.97 L622.51,142.09 L622.70,142.86 L622.89,144.74 L623.08,150.33 L623.27,143.76 L623.46,145.38 L623.65,144.64 L623.84,144.28 L624.03,144.63 L624.22,142.82 L624.41,144.61 L624.60,145.82 L624.79,140.65 L624.98,143.14 L625.17,142.73 L625.36,145.19 L625.55,140.27 L625.74,147.03 L625.93,145.49 L626.12,144.80 L626.31,142.62 L626.50,144.39 L626.69,145.68 L626.88,142.28 L627.07,144.86 L627.26,140.55 L627.45,142.20 L627.64,137.14 L627.83,142.92 L628.02,139.00 L628.21,144.87 L628.40,146.75 L628.59,141.62 L628.78,143.49 L628.97,147.81 L629.16,141.96 L629.35,141.91 L629.54,145.11 L629.73,145.50 L629.92,146.89 L630.11,143.12 L630.30,144.31 L630.49,143.02 L630.68,144.48 L630.87,141.64 L631.06,145.21 L631.25,145.47 L631.44,143.25 L631.63,142.01 L631.82,143.34 L632.01,142.61 L632.20,142.39 L632.39,141.84 L632.58,139.60 L632.77,141.68 L632.96,137.11 L633.15,144.37 L633.34,142.44 L633.53,143.65 L633.72,143.71 L633.91,140.93 L634.10,143.39 L634.29,142.49 L634.48,143.99 L634.67,145.13 L634.86,143.40 L635.05,143.28 L635.24,145.52 L635.43,138.61 L635.62,144.79 L635.81,142.48 L636.00,144.25 L636.19,142.70 L636.38,141.87 L636.57,149.12 L636.76,147.12 L636.95,146.29 L637.14,147.35 L637.33,145.91 L637.52,147.29 L637.71,143.39 L637.90,146.48 L638.09,147.22 L638.28,146.24 L638.47,141.00 L638.66,151.85 L638.85,147.59 L639.04,148.81 L639.23,143.32 L639.42,140.09 L639.61,146.87 L639.80,144.67 L639.99,147.60" fill="none" stroke="#b255ea" stroke-width="0.5" stroke-linejoin="round" stroke-linecap="round" />
<circle cx="447.00" cy="19.78" r="0.95" fill="#8e00d6"/>
<circle cx="447.19" cy="20.23" r="0.95" fill="#8e00d6"/>
<circle cx="447.38" cy="20.22" r="0.95" fill="#8e00d6"/>
<circle cx="447.57" cy="20.78" r="0.95" fill="#8e00d6"/>
<circle cx="447.76" cy="22.92" r="0.95" fill="#8e00d6"/>
<circle cx="447.95" cy="20.63" r="0.95" fill="#8e00d6"/>
<circle cx="448.14" cy="21.32" r="0.95" fill="#8e00d6"/>
<circle cx="448.33" cy="26.51" r="0.95" fill="#8e00d6"/>
<circle cx="448.52" cy="16.07" r="0.95" fill="#8e00d6"/>
<circle cx="448.71" cy="25.31" r="0.95" fill="#8e00d6"/>
<circle cx="448.90" cy="23.72" r="0.95" fill="#8e00d6"/>
<circle cx="449.09" cy="19.55" r="0.95" fill="#8e00d6"/>
<circle cx="449.28" cy="19.29" r="0.95" fill="#8e00d6"/>
<circle cx="449.47" cy="18.50" r="0.95" fill="#8e00d6"/>
<circle cx="449.66" cy="26.85" r="0.95" fill="#8e00d6"/>
<circle cx="449.85" cy="19.71" r="0.95" fill="#8e00d6"/>
<circle cx="450.04" cy="19.70" r="0.95" fill="#8e00d6"/>
<circle cx="450.23" cy="21.81" r="0.95" fill="#8e00d6"/>
<circle cx="450.42" cy="25.05" r="0.95" fill="#8e00d6"/>
<circle cx="450.61" cy="22.02" r="0.95" fill="#8e00d6"/>
<circle cx="450.80" cy="20.62" r="0.95" fill="#8e00d6"/>
<circle cx="450.99" cy="19.72" r="0.95" fill="#8e00d6"/>
<circle cx="451.18" cy="15.22" r="0.95" fill="#8e00d6"/>
<circle cx="451.37" cy="18.64" r="0.95" fill="#8e00d6"/>
<circle cx="451.56" cy="20.79" r="0.95" fill="#8e00d6"/>
<circle cx="451.75" cy="21.17" r="0.95" fill="#8e00d6"/>
<circle cx="451.94" cy="18.81" r="0.95" fill="#8e00d6"/>
<circle cx="452.13" cy="19.63" r="0.95" fill="#8e00d6"/>
<circle cx="452.32" cy="21.68" r="0.95" fill="#8e00d6"/>
<circle cx="452.51" cy="19.88" r="0.95" fill="#8e00d6"/>
<circle cx="452.70" cy="20.72" r="0.95" fill="#8e00d6"/>
<circle cx="452.89" cy="22.46" r="0.95" fill="#8e00d6"/>
<circle cx="453.08" cy="24.43" r="0.95" fill="#8e00d6"/>
<circle cx="453.27" cy="19.95" r="0.95" fill="#8e00d6"/>
<circle cx="453.46" cy="18.60" r="0.95" fill="#8e00d6"/>
<circle cx="453.65" cy="25.75" r="0.95" fill="#8e00d6"/>
<circle cx="453.84" cy="22.67" r="0.95" fill="#8e00d6"/>
<circle cx="454.03" cy="23.65" r="0.95" fill="#8e00d6"/>
<circle cx="454.22" cy="18.60" r="0.95" fill="#8e00d6"/>
<circle cx="454.41" cy="22.83" r="0.95" fill="#8e00d6"/>
<circle cx="454.60" cy="22.33" r="0.95" fill="#8e00d6"/>
<circle cx="454.79" cy="20.83" r="0.95" fill="#8e00d6"/>
<circle cx="454.98" cy="19.29" r="0.95" fill="#8e00d6"/>
<circle cx="455.17" cy="20.32" r="0.95" fill="#8e00d6"/>
<circle cx="455.36" cy="27.53" r="0.95" fill="#8e00d6"/>
<circle cx="455.55" cy="23.09" r="0.95" fill="#8e00d6"/>
<circle cx="455.74" cy="23.04" r="0.95" fill="#8e00d6"/>
<circle cx="455.93" cy="24.03" r="0.95" fill="#8e00d6"/>
<circle cx="456.12" cy="22.96" r="0.95" fill="#8e00d6"/>
<circle cx="456.31" cy="22.23" r="0.95" fill="#8e00d6"/>
<circle cx="456.50" cy="26.16" r="0.95" fill="#8e00d6"/>
<circle cx="456.69" cy="22.09" r="0.95" fill="#8e00d6"/>
<circle cx="456.88" cy="20.77" r="0.95" fill="#8e00d6"/>
<circle cx="457.07" cy="24.15" r="0.95" fill="#8e00d6"/>
<circle cx="457.26" cy="24.27" r="0.95" fill="#8e00d6"/>
<circle cx="457.45" cy="18.61" r="0.95" fill="#8e00d6"/>
<circle cx="457.64" cy="23.32" r="0.95" fill="#8e00d6"/>
<circle cx="457.83" cy="20.07" r="0.95" fill="#8e00d6"/>
<circle cx="458.02" cy="19.99" r="0.95" fill="#8e00d6"/>
<circle cx="458.21" cy="23.97" r="0.95" fill="#8e00d6"/>
<circle cx="458.40" cy="23.39" r="0.95" fill="#8e00d6"/>
<circle cx="458.59" cy="26.03" r="0.95" fill="#8e00d6"/>
<circle cx="458.78" cy="17.33" r="0.95" fill="#8e00d6"/>
<circle cx="458.97" cy="19.96" r="0.95" fill="#8e00d6"/>
<circle cx="459.16" cy="20.68" r="0.95" fill="#8e00d6"/>
<circle cx="459.35" cy="18.59" r="0.95" fill="#8e00d6"/>
<circle cx="459.54" cy="25.31" r="0.95" fill="#8e00d6"/>
<circle cx="459.73" cy="21.39" r="0.95" fill="#8e00d6"/>
<circle cx="459.92" cy="21.47" r="0.95" fill="#8e00d6"/>
<circle cx="460.11" cy="23.64" r="0.95" fill="#8e00d6"/>
<circle cx="460.30" cy="15.43" r="0.95" fill="#8e00d6"/>
<circle cx="460.49" cy="19.33" r="0.95" fill="#8e00d6"/>
<circle cx="460.68" cy="20.23" r="0.95" fill="#8e00d6"/>
<circle cx="460.87" cy="27.48" r="0.95" fill="#8e00d6"/>
<circle cx="461.06" cy="18.55" r="0.95" fill="#8e00d6"/>
<circle cx="461.25" cy="14.82" r="0.95" fill="#8e00d6"/>
<circle cx="461.44" cy="21.46" r="0.95" fill="#8e00d6"/>
<circle cx="461.63" cy="15.52" r="0.95" fill="#8e00d6"/>
<circle cx="461.82" cy="21.60" r="0.95" fill="#8e00d6"/>
<circle cx="462.01" cy="18.91" r="0.95" fill="#8e00d6"/>
<circle cx="462.20" cy="23.59" r="0.95" fill="#8e00d6"/>
<circle cx="462.39" cy="23.41" r="0.95" fill="#8e00d6"/>
<circle cx="462.58" cy="21.28" r="0.95" fill="#8e00d6"/>
<circle cx="462.77" cy="25.09" r="0.95" fill="#8e00d6"/>
<circle cx="462.96" cy="22.47" r="0.95" fill="#8e00d6"/>
<circle cx="463.15" cy="21.50" r="0.95" fill="#8e00d6"/>
<circle cx="463.34" cy="17.76" r="0.95" fill="#8e00d6"/>
<circle cx="463.53" cy="17.04" r="0.95" fill="#8e00d6"/>
<circle cx="463.72" cy="22.83" r="0.95" fill="#8e00d6"/>
<circle cx="463.91" cy="24.70" r="0.95" fill="#8e00d6"/>
<circle cx="464.10" cy="16.39" r="0.95" fill="#8e00d6"/>
<circle cx="464.29" cy="24.00" r="0.95" fill="#8e00d6"/>
<circle cx="464.48" cy="19.26" r="0.95" fill="#8e00d6"/>
<circle cx="464.67" cy="23.64" r="0.95" fill="#8e00d6"/>
<circle cx="464.86" cy="22.96" r="0.95" fill="#8e00d6"/>
<circle cx="465.05" cy="18.85" r="0.95" fill="#8e00d6"/>
<circle cx="465.24" cy="18.64" r="0.95" fill="#8e00d6"/>
<circle cx="465.43" cy="20.46" r="0.95" fill="#8e00d6"/>
<circle cx="465.62" cy="22.79" r="0.95" fill="#8e00d6"/>
<circle cx="465.81" cy="20.29" r="0.95" fill="#8e00d6"/>
<circle cx="466.00" cy="24.34" r="0.95" fill="#8e00d6"/>
<circle cx="466.19" cy="22.31" r="0.95" fill="#8e00d6"/>
<circle cx="466.38" cy="25.94" r="0.95" fill="#8e00d6"/>
<circle cx="466.57" cy="23.37" r="0.95" fill="#8e00d6"/>
<circle cx="466.76" cy="21.31" r="0.95" fill="#8e00d6"/>
<circle cx="466.95" cy="19.29" r="0.95" fill="#8e00d6"/>
<circle cx="467.14" cy="22.95" r="0.95" fill="#8e00d6"/>
<circle cx="467.33" cy="23.62" r="0.95" fill="#8e00d6"/>
<circle cx="466.30" cy="31.30" r="0.95" fill="#8e00d6"/>
<circle cx="467.60" cy="24.00" r="0.95" fill="#8e00d6"/>
<circle cx="468.00" cy="33.30" r="0.95" fill="#8e00d6"/>
<circle cx="468.50" cy="57.40" r="0.95" fill="#8e00d6"/>
<circle cx="468.60" cy="76.60" r="0.95" fill="#8e00d6"/>
<circle cx="469.00" cy="66.00" r="0.95" fill="#8e00d6"/>
<circle cx="469.30" cy="63.80" r="0.95" fill="#8e00d6"/>
<circle cx="469.60" cy="70.00" r="0.95" fill="#8e00d6"/>
<circle cx="470.00" cy="68.00" r="0.95" fill="#8e00d6"/>
<circle cx="470.50" cy="79.80" r="0.95" fill="#8e00d6"/>
<circle cx="470.80" cy="64.00" r="0.95" fill="#8e00d6"/>
<circle cx="471.20" cy="72.00" r="0.95" fill="#8e00d6"/>
<circle cx="471.60" cy="66.00" r="0.95" fill="#8e00d6"/>
<circle cx="472.00" cy="69.00" r="0.95" fill="#8e00d6"/>
<circle cx="472.50" cy="85.10" r="0.95" fill="#8e00d6"/>
<circle cx="473.00" cy="70.00" r="0.95" fill="#8e00d6"/>
<circle cx="473.50" cy="66.50" r="0.95" fill="#8e00d6"/>
<circle cx="474.00" cy="72.00" r="0.95" fill="#8e00d6"/>
<circle cx="474.30" cy="73.21" r="0.95" fill="#8e00d6"/>
<circle cx="474.49" cy="69.36" r="0.95" fill="#8e00d6"/>
<circle cx="474.68" cy="69.16" r="0.95" fill="#8e00d6"/>
<circle cx="474.87" cy="68.81" r="0.95" fill="#8e00d6"/>
<circle cx="475.06" cy="70.61" r="0.95" fill="#8e00d6"/>
<circle cx="475.25" cy="63.63" r="0.95" fill="#8e00d6"/>
<circle cx="475.44" cy="71.36" r="0.95" fill="#8e00d6"/>
<circle cx="475.63" cy="71.01" r="0.95" fill="#8e00d6"/>
<circle cx="475.82" cy="73.83" r="0.95" fill="#8e00d6"/>
<circle cx="476.01" cy="74.82" r="0.95" fill="#8e00d6"/>
<circle cx="476.20" cy="77.10" r="0.95" fill="#8e00d6"/>
<circle cx="476.39" cy="72.74" r="0.95" fill="#8e00d6"/>
<circle cx="476.58" cy="68.09" r="0.95" fill="#8e00d6"/>
<circle cx="476.77" cy="73.86" r="0.95" fill="#8e00d6"/>
<circle cx="476.96" cy="74.36" r="0.95" fill="#8e00d6"/>
<circle cx="477.15" cy="67.70" r="0.95" fill="#8e00d6"/>
<circle cx="477.34" cy="70.15" r="0.95" fill="#8e00d6"/>
<circle cx="477.53" cy="73.26" r="0.95" fill="#8e00d6"/>
<circle cx="477.72" cy="71.29" r="0.95" fill="#8e00d6"/>
<circle cx="477.91" cy="71.79" r="0.95" fill="#8e00d6"/>
<circle cx="478.10" cy="74.31" r="0.95" fill="#8e00d6"/>
<circle cx="478.29" cy="71.01" r="0.95" fill="#8e00d6"/>
<circle cx="478.48" cy="76.09" r="0.95" fill="#8e00d6"/>
<circle cx="478.67" cy="75.42" r="0.95" fill="#8e00d6"/>
<circle cx="478.86" cy="71.26" r="0.95" fill="#8e00d6"/>
<circle cx="479.05" cy="68.54" r="0.95" fill="#8e00d6"/>
<circle cx="479.24" cy="74.16" r="0.95" fill="#8e00d6"/>
<circle cx="479.43" cy="76.95" r="0.95" fill="#8e00d6"/>
<circle cx="479.62" cy="69.01" r="0.95" fill="#8e00d6"/>
<circle cx="479.81" cy="75.42" r="0.95" fill="#8e00d6"/>
<circle cx="480.00" cy="69.80" r="0.95" fill="#8e00d6"/>
<circle cx="480.19" cy="75.56" r="0.95" fill="#8e00d6"/>
<circle cx="480.38" cy="72.45" r="0.95" fill="#8e00d6"/>
<circle cx="480.57" cy="75.90" r="0.95" fill="#8e00d6"/>
<circle cx="480.76" cy="68.88" r="0.95" fill="#8e00d6"/>
<circle cx="480.95" cy="75.06" r="0.95" fill="#8e00d6"/>
<circle cx="481.14" cy="76.15" r="0.95" fill="#8e00d6"/>
<circle cx="481.33" cy="73.46" r="0.95" fill="#8e00d6"/>
<circle cx="481.52" cy="75.09" r="0.95" fill="#8e00d6"/>
<circle cx="481.71" cy="73.53" r="0.95" fill="#8e00d6"/>
<circle cx="481.90" cy="78.85" r="0.95" fill="#8e00d6"/>
<circle cx="482.09" cy="76.62" r="0.95" fill="#8e00d6"/>
<circle cx="482.28" cy="75.17" r="0.95" fill="#8e00d6"/>
<circle cx="482.47" cy="72.75" r="0.95" fill="#8e00d6"/>
<circle cx="482.66" cy="79.09" r="0.95" fill="#8e00d6"/>
<circle cx="482.85" cy="76.79" r="0.95" fill="#8e00d6"/>
<circle cx="483.04" cy="75.98" r="0.95" fill="#8e00d6"/>
<circle cx="483.23" cy="77.72" r="0.95" fill="#8e00d6"/>
<circle cx="483.42" cy="71.95" r="0.95" fill="#8e00d6"/>
<circle cx="483.61" cy="72.41" r="0.95" fill="#8e00d6"/>
<circle cx="483.80" cy="77.60" r="0.95" fill="#8e00d6"/>
<circle cx="483.99" cy="76.79" r="0.95" fill="#8e00d6"/>
<circle cx="484.18" cy="73.19" r="0.95" fill="#8e00d6"/>
<circle cx="484.37" cy="72.26" r="0.95" fill="#8e00d6"/>
<circle cx="484.56" cy="74.92" r="0.95" fill="#8e00d6"/>
<circle cx="484.75" cy="68.69" r="0.95" fill="#8e00d6"/>
<circle cx="484.94" cy="70.11" r="0.95" fill="#8e00d6"/>
<circle cx="485.13" cy="71.32" r="0.95" fill="#8e00d6"/>
<circle cx="485.32" cy="72.03" r="0.95" fill="#8e00d6"/>
<circle cx="485.51" cy="77.50" r="0.95" fill="#8e00d6"/>
<circle cx="485.70" cy="76.03" r="0.95" fill="#8e00d6"/>
<circle cx="485.89" cy="70.58" r="0.95" fill="#8e00d6"/>
<circle cx="486.08" cy="73.03" r="0.95" fill="#8e00d6"/>
<circle cx="486.27" cy="75.50" r="0.95" fill="#8e00d6"/>
<circle cx="486.46" cy="72.15" r="0.95" fill="#8e00d6"/>
<circle cx="486.65" cy="68.37" r="0.95" fill="#8e00d6"/>
<circle cx="486.84" cy="77.48" r="0.95" fill="#8e00d6"/>
<circle cx="487.03" cy="71.62" r="0.95" fill="#8e00d6"/>
<circle cx="487.22" cy="73.78" r="0.95" fill="#8e00d6"/>
<circle cx="487.41" cy="74.65" r="0.95" fill="#8e00d6"/>
<circle cx="487.60" cy="78.13" r="0.95" fill="#8e00d6"/>
<circle cx="487.79" cy="73.58" r="0.95" fill="#8e00d6"/>
<circle cx="487.98" cy="77.14" r="0.95" fill="#8e00d6"/>
<circle cx="488.17" cy="73.58" r="0.95" fill="#8e00d6"/>
<circle cx="488.36" cy="73.93" r="0.95" fill="#8e00d6"/>
<circle cx="488.55" cy="71.71" r="0.95" fill="#8e00d6"/>
<circle cx="488.74" cy="77.25" r="0.95" fill="#8e00d6"/>
<circle cx="488.93" cy="77.94" r="0.95" fill="#8e00d6"/>
<circle cx="489.12" cy="76.53" r="0.95" fill="#8e00d6"/>
<circle cx="489.31" cy="79.81" r="0.95" fill="#8e00d6"/>
<circle cx="489.50" cy="75.30" r="0.95" fill="#8e00d6"/>
<circle cx="489.69" cy="77.22" r="0.95" fill="#8e00d6"/>
<circle cx="489.88" cy="75.27" r="0.95" fill="#8e00d6"/>
<circle cx="490.07" cy="76.56" r="0.95" fill="#8e00d6"/>
<circle cx="490.26" cy="76.19" r="0.95" fill="#8e00d6"/>
<circle cx="490.45" cy="78.95" r="0.95" fill="#8e00d6"/>
<circle cx="490.64" cy="74.01" r="0.95" fill="#8e00d6"/>
<circle cx="490.83" cy="79.94" r="0.95" fill="#8e00d6"/>
<circle cx="491.02" cy="76.34" r="0.95" fill="#8e00d6"/>
<circle cx="491.21" cy="78.92" r="0.95" fill="#8e00d6"/>
<circle cx="491.40" cy="72.42" r="0.95" fill="#8e00d6"/>
<circle cx="491.59" cy="76.08" r="0.95" fill="#8e00d6"/>
<circle cx="491.78" cy="82.23" r="0.95" fill="#8e00d6"/>
<circle cx="491.97" cy="78.31" r="0.95" fill="#8e00d6"/>
<circle cx="492.16" cy="71.32" r="0.95" fill="#8e00d6"/>
<circle cx="492.35" cy="75.85" r="0.95" fill="#8e00d6"/>
<circle cx="492.54" cy="74.91" r="0.95" fill="#8e00d6"/>
<circle cx="492.73" cy="73.42" r="0.95" fill="#8e00d6"/>
<circle cx="492.92" cy="74.08" r="0.95" fill="#8e00d6"/>
<circle cx="493.11" cy="76.98" r="0.95" fill="#8e00d6"/>
<circle cx="493.30" cy="76.19" r="0.95" fill="#8e00d6"/>
<circle cx="493.49" cy="76.11" r="0.95" fill="#8e00d6"/>
<circle cx="493.68" cy="77.93" r="0.95" fill="#8e00d6"/>
<circle cx="493.87" cy="78.73" r="0.95" fill="#8e00d6"/>
<circle cx="494.06" cy="77.13" r="0.95" fill="#8e00d6"/>
<circle cx="494.25" cy="73.34" r="0.95" fill="#8e00d6"/>
<circle cx="494.44" cy="73.88" r="0.95" fill="#8e00d6"/>
<circle cx="494.63" cy="78.41" r="0.95" fill="#8e00d6"/>
<circle cx="494.82" cy="74.64" r="0.95" fill="#8e00d6"/>
<circle cx="495.01" cy="81.32" r="0.95" fill="#8e00d6"/>
<circle cx="495.20" cy="77.10" r="0.95" fill="#8e00d6"/>
<circle cx="495.39" cy="78.66" r="0.95" fill="#8e00d6"/>
<circle cx="495.58" cy="76.31" r="0.95" fill="#8e00d6"/>
<circle cx="495.77" cy="78.87" r="0.95" fill="#8e00d6"/>
<circle cx="495.96" cy="82.46" r="0.95" fill="#8e00d6"/>
<circle cx="496.15" cy="79.02" r="0.95" fill="#8e00d6"/>
<circle cx="496.34" cy="75.60" r="0.95" fill="#8e00d6"/>
<circle cx="496.53" cy="83.23" r="0.95" fill="#8e00d6"/>
<circle cx="496.72" cy="75.05" r="0.95" fill="#8e00d6"/>
<circle cx="496.91" cy="72.69" r="0.95" fill="#8e00d6"/>
<circle cx="497.10" cy="72.77" r="0.95" fill="#8e00d6"/>
<circle cx="497.29" cy="81.48" r="0.95" fill="#8e00d6"/>
<circle cx="497.48" cy="76.28" r="0.95" fill="#8e00d6"/>
<circle cx="497.67" cy="78.48" r="0.95" fill="#8e00d6"/>
<circle cx="497.86" cy="75.54" r="0.95" fill="#8e00d6"/>
<circle cx="498.05" cy="77.72" r="0.95" fill="#8e00d6"/>
<circle cx="498.24" cy="76.27" r="0.95" fill="#8e00d6"/>
<circle cx="498.43" cy="76.39" r="0.95" fill="#8e00d6"/>
<circle cx="498.62" cy="75.93" r="0.95" fill="#8e00d6"/>
<circle cx="498.81" cy="73.93" r="0.95" fill="#8e00d6"/>
<circle cx="499.00" cy="76.18" r="0.95" fill="#8e00d6"/>
<circle cx="499.19" cy="76.29" r="0.95" fill="#8e00d6"/>
<circle cx="499.38" cy="71.11" r="0.95" fill="#8e00d6"/>
<circle cx="499.57" cy="77.19" r="0.95" fill="#8e00d6"/>
<circle cx="499.76" cy="75.27" r="0.95" fill="#8e00d6"/>
<circle cx="499.95" cy="72.52" r="0.95" fill="#8e00d6"/>
<circle cx="500.14" cy="76.54" r="0.95" fill="#8e00d6"/>
<circle cx="500.33" cy="70.19" r="0.95" fill="#8e00d6"/>
<circle cx="500.52" cy="81.76" r="0.95" fill="#8e00d6"/>
<circle cx="500.71" cy="74.87" r="0.95" fill="#8e00d6"/>
<circle cx="500.90" cy="74.88" r="0.95" fill="#8e00d6"/>
<circle cx="501.09" cy="71.76" r="0.95" fill="#8e00d6"/>
<circle cx="501.28" cy="79.51" r="0.95" fill="#8e00d6"/>
<circle cx="501.47" cy="77.22" r="0.95" fill="#8e00d6"/>
<circle cx="501.66" cy="73.90" r="0.95" fill="#8e00d6"/>
<circle cx="501.85" cy="77.59" r="0.95" fill="#8e00d6"/>
<circle cx="502.04" cy="76.24" r="0.95" fill="#8e00d6"/>
<circle cx="502.23" cy="73.09" r="0.95" fill="#8e00d6"/>
<circle cx="502.42" cy="72.99" r="0.95" fill="#8e00d6"/>
<circle cx="502.61" cy="75.16" r="0.95" fill="#8e00d6"/>
<circle cx="502.80" cy="74.18" r="0.95" fill="#8e00d6"/>
<circle cx="502.99" cy="70.53" r="0.95" fill="#8e00d6"/>
<circle cx="503.18" cy="76.40" r="0.95" fill="#8e00d6"/>
<circle cx="503.37" cy="77.79" r="0.95" fill="#8e00d6"/>
<circle cx="503.56" cy="70.91" r="0.95" fill="#8e00d6"/>
<circle cx="503.75" cy="76.10" r="0.95" fill="#8e00d6"/>
<circle cx="503.94" cy="73.40" r="0.95" fill="#8e00d6"/>
<circle cx="504.13" cy="76.63" r="0.95" fill="#8e00d6"/>
<circle cx="504.32" cy="76.36" r="0.95" fill="#8e00d6"/>
<circle cx="504.51" cy="75.10" r="0.95" fill="#8e00d6"/>
<circle cx="504.70" cy="72.68" r="0.95" fill="#8e00d6"/>
<circle cx="504.89" cy="75.07" r="0.95" fill="#8e00d6"/>
<circle cx="505.08" cy="74.25" r="0.95" fill="#8e00d6"/>
<circle cx="505.27" cy="73.31" r="0.95" fill="#8e00d6"/>
<circle cx="505.46" cy="74.96" r="0.95" fill="#8e00d6"/>
<circle cx="505.65" cy="74.00" r="0.95" fill="#8e00d6"/>
<circle cx="505.84" cy="75.39" r="0.95" fill="#8e00d6"/>
<circle cx="506.03" cy="77.36" r="0.95" fill="#8e00d6"/>
<circle cx="506.22" cy="71.21" r="0.95" fill="#8e00d6"/>
<circle cx="506.41" cy="74.72" r="0.95" fill="#8e00d6"/>
<circle cx="506.60" cy="73.02" r="0.95" fill="#8e00d6"/>
<circle cx="506.79" cy="76.17" r="0.95" fill="#8e00d6"/>
<circle cx="506.98" cy="79.47" r="0.95" fill="#8e00d6"/>
<circle cx="507.17" cy="79.32" r="0.95" fill="#8e00d6"/>
<circle cx="507.36" cy="71.69" r="0.95" fill="#8e00d6"/>
<circle cx="507.55" cy="78.05" r="0.95" fill="#8e00d6"/>
<circle cx="507.74" cy="77.48" r="0.95" fill="#8e00d6"/>
<circle cx="507.93" cy="74.21" r="0.95" fill="#8e00d6"/>
<circle cx="508.12" cy="76.35" r="0.95" fill="#8e00d6"/>
<circle cx="508.31" cy="78.31" r="0.95" fill="#8e00d6"/>
<circle cx="508.50" cy="74.08" r="0.95" fill="#8e00d6"/>
<circle cx="508.69" cy="77.49" r="0.95" fill="#8e00d6"/>
<circle cx="508.88" cy="78.36" r="0.95" fill="#8e00d6"/>
<circle cx="509.07" cy="76.20" r="0.95" fill="#8e00d6"/>
<circle cx="509.26" cy="78.06" r="0.95" fill="#8e00d6"/>
<circle cx="509.45" cy="78.35" r="0.95" fill="#8e00d6"/>
<circle cx="509.64" cy="83.54" r="0.95" fill="#8e00d6"/>
<circle cx="509.83" cy="82.14" r="0.95" fill="#8e00d6"/>
<circle cx="510.02" cy="79.70" r="0.95" fill="#8e00d6"/>
<circle cx="510.21" cy="77.32" r="0.95" fill="#8e00d6"/>
<circle cx="510.40" cy="77.46" r="0.95" fill="#8e00d6"/>
<circle cx="510.59" cy="81.00" r="0.95" fill="#8e00d6"/>
<circle cx="510.78" cy="74.39" r="0.95" fill="#8e00d6"/>
<circle cx="510.97" cy="78.20" r="0.95" fill="#8e00d6"/>
<circle cx="511.16" cy="75.90" r="0.95" fill="#8e00d6"/>
<circle cx="511.35" cy="79.55" r="0.95" fill="#8e00d6"/>
<circle cx="511.54" cy="84.79" r="0.95" fill="#8e00d6"/>
<circle cx="511.73" cy="77.70" r="0.95" fill="#8e00d6"/>
<circle cx="511.92" cy="78.94" r="0.95" fill="#8e00d6"/>
<circle cx="512.11" cy="77.67" r="0.95" fill="#8e00d6"/>
<circle cx="512.30" cy="82.33" r="0.95" fill="#8e00d6"/>
<circle cx="512.49" cy="83.23" r="0.95" fill="#8e00d6"/>
<circle cx="512.68" cy="78.71" r="0.95" fill="#8e00d6"/>
<circle cx="512.87" cy="80.85" r="0.95" fill="#8e00d6"/>
<circle cx="513.06" cy="79.35" r="0.95" fill="#8e00d6"/>
<circle cx="513.25" cy="81.97" r="0.95" fill="#8e00d6"/>
<circle cx="513.44" cy="80.84" r="0.95" fill="#8e00d6"/>
<circle cx="513.63" cy="75.85" r="0.95" fill="#8e00d6"/>
<circle cx="513.82" cy="80.44" r="0.95" fill="#8e00d6"/>
<circle cx="514.01" cy="76.52" r="0.95" fill="#8e00d6"/>
<circle cx="514.20" cy="76.98" r="0.95" fill="#8e00d6"/>
<circle cx="514.39" cy="81.36" r="0.95" fill="#8e00d6"/>
<circle cx="514.58" cy="73.91" r="0.95" fill="#8e00d6"/>
<circle cx="514.77" cy="81.45" r="0.95" fill="#8e00d6"/>
<circle cx="514.96" cy="78.32" r="0.95" fill="#8e00d6"/>
<circle cx="515.15" cy="77.42" r="0.95" fill="#8e00d6"/>
<circle cx="515.34" cy="80.46" r="0.95" fill="#8e00d6"/>
<circle cx="515.53" cy="80.52" r="0.95" fill="#8e00d6"/>
<circle cx="515.72" cy="73.94" r="0.95" fill="#8e00d6"/>
<circle cx="515.91" cy="75.43" r="0.95" fill="#8e00d6"/>
<circle cx="516.10" cy="77.77" r="0.95" fill="#8e00d6"/>
<circle cx="516.29" cy="79.02" r="0.95" fill="#8e00d6"/>
<circle cx="516.48" cy="72.78" r="0.95" fill="#8e00d6"/>
<circle cx="516.67" cy="79.70" r="0.95" fill="#8e00d6"/>
<circle cx="516.86" cy="73.83" r="0.95" fill="#8e00d6"/>
<circle cx="517.05" cy="77.50" r="0.95" fill="#8e00d6"/>
<circle cx="517.24" cy="74.97" r="0.95" fill="#8e00d6"/>
<circle cx="517.43" cy="73.17" r="0.95" fill="#8e00d6"/>
<circle cx="517.62" cy="79.26" r="0.95" fill="#8e00d6"/>
<circle cx="517.81" cy="76.26" r="0.95" fill="#8e00d6"/>
<circle cx="518.00" cy="82.14" r="0.95" fill="#8e00d6"/>
<circle cx="518.19" cy="77.47" r="0.95" fill="#8e00d6"/>
<circle cx="518.38" cy="75.44" r="0.95" fill="#8e00d6"/>
<circle cx="518.57" cy="78.07" r="0.95" fill="#8e00d6"/>
<circle cx="518.76" cy="82.06" r="0.95" fill="#8e00d6"/>
<circle cx="518.95" cy="75.08" r="0.95" fill="#8e00d6"/>
<circle cx="519.14" cy="80.88" r="0.95" fill="#8e00d6"/>
<circle cx="519.33" cy="76.57" r="0.95" fill="#8e00d6"/>
<circle cx="519.52" cy="75.16" r="0.95" fill="#8e00d6"/>
<circle cx="519.71" cy="76.07" r="0.95" fill="#8e00d6"/>
<circle cx="519.90" cy="78.24" r="0.95" fill="#8e00d6"/>
<circle cx="520.09" cy="79.43" r="0.95" fill="#8e00d6"/>
<circle cx="520.28" cy="81.77" r="0.95" fill="#8e00d6"/>
<circle cx="520.47" cy="80.39" r="0.95" fill="#8e00d6"/>
<circle cx="520.66" cy="79.35" r="0.95" fill="#8e00d6"/>
<circle cx="520.85" cy="78.30" r="0.95" fill="#8e00d6"/>
<circle cx="521.04" cy="77.99" r="0.95" fill="#8e00d6"/>
<circle cx="521.23" cy="80.70" r="0.95" fill="#8e00d6"/>
<circle cx="521.42" cy="76.99" r="0.95" fill="#8e00d6"/>
<circle cx="521.61" cy="76.83" r="0.95" fill="#8e00d6"/>
<circle cx="521.80" cy="78.08" r="0.95" fill="#8e00d6"/>
<circle cx="521.99" cy="80.81" r="0.95" fill="#8e00d6"/>
<circle cx="522.18" cy="77.11" r="0.95" fill="#8e00d6"/>
<circle cx="522.37" cy="78.20" r="0.95" fill="#8e00d6"/>
<circle cx="522.56" cy="76.35" r="0.95" fill="#8e00d6"/>
<circle cx="522.75" cy="78.07" r="0.95" fill="#8e00d6"/>
<circle cx="522.94" cy="73.73" r="0.95" fill="#8e00d6"/>
<circle cx="523.13" cy="80.42" r="0.95" fill="#8e00d6"/>
<circle cx="523.32" cy="81.22" r="0.95" fill="#8e00d6"/>
<circle cx="523.51" cy="80.08" r="0.95" fill="#8e00d6"/>
<circle cx="523.70" cy="77.07" r="0.95" fill="#8e00d6"/>
<circle cx="523.89" cy="79.74" r="0.95" fill="#8e00d6"/>
<circle cx="524.08" cy="77.71" r="0.95" fill="#8e00d6"/>
<circle cx="524.27" cy="76.43" r="0.95" fill="#8e00d6"/>
<circle cx="524.46" cy="83.08" r="0.95" fill="#8e00d6"/>
<circle cx="524.65" cy="81.89" r="0.95" fill="#8e00d6"/>
<circle cx="524.84" cy="72.96" r="0.95" fill="#8e00d6"/>
<circle cx="525.03" cy="75.57" r="0.95" fill="#8e00d6"/>
<circle cx="525.22" cy="78.18" r="0.95" fill="#8e00d6"/>
<circle cx="525.41" cy="77.02" r="0.95" fill="#8e00d6"/>
<circle cx="525.60" cy="79.44" r="0.95" fill="#8e00d6"/>
<circle cx="525.79" cy="81.09" r="0.95" fill="#8e00d6"/>
<circle cx="525.98" cy="76.00" r="0.95" fill="#8e00d6"/>
<circle cx="526.17" cy="78.53" r="0.95" fill="#8e00d6"/>
<circle cx="526.36" cy="75.28" r="0.95" fill="#8e00d6"/>
<circle cx="526.55" cy="72.58" r="0.95" fill="#8e00d6"/>
<circle cx="526.74" cy="79.25" r="0.95" fill="#8e00d6"/>
<circle cx="526.93" cy="72.59" r="0.95" fill="#8e00d6"/>
<circle cx="527.12" cy="76.62" r="0.95" fill="#8e00d6"/>
<circle cx="527.31" cy="75.70" r="0.95" fill="#8e00d6"/>
<circle cx="527.50" cy="79.74" r="0.95" fill="#8e00d6"/>
<circle cx="527.69" cy="79.64" r="0.95" fill="#8e00d6"/>
<circle cx="527.88" cy="78.28" r="0.95" fill="#8e00d6"/>
<circle cx="528.07" cy="79.56" r="0.95" fill="#8e00d6"/>
<circle cx="528.26" cy="77.73" r="0.95" fill="#8e00d6"/>
<circle cx="528.45" cy="76.38" r="0.95" fill="#8e00d6"/>
<circle cx="528.64" cy="80.15" r="0.95" fill="#8e00d6"/>
<circle cx="528.83" cy="84.87" r="0.95" fill="#8e00d6"/>
<circle cx="529.02" cy="75.28" r="0.95" fill="#8e00d6"/>
<circle cx="529.21" cy="81.65" r="0.95" fill="#8e00d6"/>
<circle cx="529.40" cy="83.43" r="0.95" fill="#8e00d6"/>
<circle cx="529.59" cy="77.08" r="0.95" fill="#8e00d6"/>
<circle cx="529.78" cy="80.41" r="0.95" fill="#8e00d6"/>
<circle cx="529.97" cy="77.11" r="0.95" fill="#8e00d6"/>
<circle cx="530.16" cy="78.49" r="0.95" fill="#8e00d6"/>
<circle cx="530.35" cy="80.32" r="0.95" fill="#8e00d6"/>
<circle cx="530.54" cy="76.05" r="0.95" fill="#8e00d6"/>
<circle cx="530.73" cy="83.75" r="0.95" fill="#8e00d6"/>
<circle cx="530.92" cy="82.12" r="0.95" fill="#8e00d6"/>
<circle cx="531.11" cy="81.23" r="0.95" fill="#8e00d6"/>
<circle cx="531.30" cy="77.59" r="0.95" fill="#8e00d6"/>
<circle cx="531.49" cy="82.29" r="0.95" fill="#8e00d6"/>
<circle cx="531.68" cy="84.37" r="0.95" fill="#8e00d6"/>
<circle cx="531.87" cy="84.61" r="0.95" fill="#8e00d6"/>
<circle cx="532.06" cy="82.34" r="0.95" fill="#8e00d6"/>
<circle cx="532.25" cy="78.58" r="0.95" fill="#8e00d6"/>
<circle cx="532.44" cy="80.03" r="0.95" fill="#8e00d6"/>
<circle cx="532.63" cy="81.34" r="0.95" fill="#8e00d6"/>
<circle cx="532.82" cy="84.83" r="0.95" fill="#8e00d6"/>
<circle cx="533.01" cy="79.46" r="0.95" fill="#8e00d6"/>
<circle cx="533.20" cy="80.89" r="0.95" fill="#8e00d6"/>
<circle cx="533.39" cy="79.09" r="0.95" fill="#8e00d6"/>
<circle cx="533.58" cy="77.34" r="0.95" fill="#8e00d6"/>
<circle cx="533.77" cy="79.38" r="0.95" fill="#8e00d6"/>
<circle cx="533.96" cy="77.23" r="0.95" fill="#8e00d6"/>
<circle cx="534.15" cy="79.50" r="0.95" fill="#8e00d6"/>
<circle cx="534.34" cy="76.72" r="0.95" fill="#8e00d6"/>
<circle cx="534.53" cy="82.08" r="0.95" fill="#8e00d6"/>
<circle cx="534.72" cy="78.66" r="0.95" fill="#8e00d6"/>
<circle cx="534.91" cy="78.73" r="0.95" fill="#8e00d6"/>
<circle cx="535.10" cy="83.53" r="0.95" fill="#8e00d6"/>
<circle cx="535.29" cy="77.67" r="0.95" fill="#8e00d6"/>
<circle cx="535.48" cy="79.91" r="0.95" fill="#8e00d6"/>
<circle cx="535.67" cy="77.06" r="0.95" fill="#8e00d6"/>
<circle cx="535.86" cy="80.63" r="0.95" fill="#8e00d6"/>
<circle cx="536.05" cy="75.78" r="0.95" fill="#8e00d6"/>
<circle cx="536.24" cy="75.38" r="0.95" fill="#8e00d6"/>
<circle cx="536.43" cy="79.48" r="0.95" fill="#8e00d6"/>
<circle cx="536.62" cy="75.84" r="0.95" fill="#8e00d6"/>
<circle cx="536.81" cy="77.57" r="0.95" fill="#8e00d6"/>
<circle cx="537.00" cy="76.33" r="0.95" fill="#8e00d6"/>
<circle cx="537.19" cy="74.49" r="0.95" fill="#8e00d6"/>
<circle cx="537.38" cy="78.74" r="0.95" fill="#8e00d6"/>
<circle cx="537.57" cy="77.41" r="0.95" fill="#8e00d6"/>
<circle cx="537.76" cy="77.63" r="0.95" fill="#8e00d6"/>
<circle cx="537.95" cy="83.79" r="0.95" fill="#8e00d6"/>
<circle cx="538.14" cy="80.20" r="0.95" fill="#8e00d6"/>
<circle cx="538.33" cy="81.20" r="0.95" fill="#8e00d6"/>
<circle cx="538.52" cy="79.11" r="0.95" fill="#8e00d6"/>
<circle cx="538.71" cy="79.62" r="0.95" fill="#8e00d6"/>
<circle cx="538.90" cy="81.74" r="0.95" fill="#8e00d6"/>
<circle cx="539.09" cy="74.36" r="0.95" fill="#8e00d6"/>
<circle cx="539.28" cy="82.51" r="0.95" fill="#8e00d6"/>
<circle cx="539.47" cy="81.28" r="0.95" fill="#8e00d6"/>
<circle cx="539.66" cy="80.92" r="0.95" fill="#8e00d6"/>
<circle cx="539.85" cy="78.38" r="0.95" fill="#8e00d6"/>
<circle cx="540.04" cy="78.48" r="0.95" fill="#8e00d6"/>
<circle cx="540.23" cy="78.48" r="0.95" fill="#8e00d6"/>
<circle cx="540.42" cy="78.39" r="0.95" fill="#8e00d6"/>
<circle cx="540.61" cy="79.86" r="0.95" fill="#8e00d6"/>
<circle cx="540.80" cy="83.46" r="0.95" fill="#8e00d6"/>
<circle cx="540.99" cy="78.96" r="0.95" fill="#8e00d6"/>
<circle cx="541.18" cy="76.97" r="0.95" fill="#8e00d6"/>
<circle cx="541.37" cy="79.36" r="0.95" fill="#8e00d6"/>
<circle cx="541.56" cy="77.04" r="0.95" fill="#8e00d6"/>
<circle cx="541.75" cy="77.23" r="0.95" fill="#8e00d6"/>
<circle cx="541.94" cy="75.67" r="0.95" fill="#8e00d6"/>
<circle cx="542.13" cy="79.14" r="0.95" fill="#8e00d6"/>
<circle cx="542.32" cy="78.41" r="0.95" fill="#8e00d6"/>
<circle cx="542.51" cy="79.49" r="0.95" fill="#8e00d6"/>
<circle cx="542.70" cy="78.77" r="0.95" fill="#8e00d6"/>
<circle cx="542.89" cy="74.57" r="0.95" fill="#8e00d6"/>
<circle cx="543.08" cy="80.35" r="0.95" fill="#8e00d6"/>
<circle cx="543.27" cy="76.06" r="0.95" fill="#8e00d6"/>
<circle cx="543.46" cy="72.52" r="0.95" fill="#8e00d6"/>
<circle cx="543.65" cy="79.39" r="0.95" fill="#8e00d6"/>
<circle cx="543.84" cy="75.15" r="0.95" fill="#8e00d6"/>
<circle cx="544.03" cy="80.94" r="0.95" fill="#8e00d6"/>
<circle cx="544.22" cy="74.89" r="0.95" fill="#8e00d6"/>
<circle cx="544.41" cy="79.58" r="0.95" fill="#8e00d6"/>
<circle cx="544.60" cy="79.26" r="0.95" fill="#8e00d6"/>
<circle cx="544.79" cy="71.26" r="0.95" fill="#8e00d6"/>
<circle cx="544.98" cy="72.33" r="0.95" fill="#8e00d6"/>
<circle cx="545.17" cy="78.39" r="0.95" fill="#8e00d6"/>
<circle cx="545.36" cy="76.50" r="0.95" fill="#8e00d6"/>
<circle cx="545.55" cy="80.74" r="0.95" fill="#8e00d6"/>
<circle cx="545.74" cy="75.90" r="0.95" fill="#8e00d6"/>
<circle cx="545.93" cy="77.37" r="0.95" fill="#8e00d6"/>
<circle cx="546.12" cy="78.42" r="0.95" fill="#8e00d6"/>
<circle cx="546.31" cy="77.51" r="0.95" fill="#8e00d6"/>
<circle cx="546.50" cy="77.02" r="0.95" fill="#8e00d6"/>
<circle cx="546.69" cy="76.82" r="0.95" fill="#8e00d6"/>
<circle cx="546.88" cy="73.37" r="0.95" fill="#8e00d6"/>
<circle cx="547.07" cy="77.90" r="0.95" fill="#8e00d6"/>
<circle cx="547.26" cy="76.50" r="0.95" fill="#8e00d6"/>
<circle cx="547.45" cy="76.02" r="0.95" fill="#8e00d6"/>
<circle cx="547.64" cy="75.53" r="0.95" fill="#8e00d6"/>
<circle cx="547.83" cy="75.52" r="0.95" fill="#8e00d6"/>
<circle cx="548.02" cy="76.17" r="0.95" fill="#8e00d6"/>
<circle cx="548.21" cy="76.15" r="0.95" fill="#8e00d6"/>
<circle cx="548.40" cy="80.16" r="0.95" fill="#8e00d6"/>
<circle cx="548.59" cy="79.36" r="0.95" fill="#8e00d6"/>
<circle cx="548.78" cy="76.48" r="0.95" fill="#8e00d6"/>
<circle cx="548.97" cy="80.13" r="0.95" fill="#8e00d6"/>
<circle cx="549.16" cy="76.70" r="0.95" fill="#8e00d6"/>
<circle cx="549.35" cy="78.08" r="0.95" fill="#8e00d6"/>
<circle cx="549.54" cy="79.54" r="0.95" fill="#8e00d6"/>
<circle cx="549.73" cy="78.78" r="0.95" fill="#8e00d6"/>
<circle cx="549.92" cy="78.95" r="0.95" fill="#8e00d6"/>
<circle cx="550.11" cy="74.41" r="0.95" fill="#8e00d6"/>
<circle cx="550.30" cy="75.32" r="0.95" fill="#8e00d6"/>
<circle cx="550.49" cy="80.96" r="0.95" fill="#8e00d6"/>
<circle cx="550.68" cy="77.41" r="0.95" fill="#8e00d6"/>
<circle cx="550.87" cy="74.41" r="0.95" fill="#8e00d6"/>
<circle cx="551.06" cy="78.03" r="0.95" fill="#8e00d6"/>
<circle cx="551.25" cy="79.38" r="0.95" fill="#8e00d6"/>
<circle cx="551.44" cy="78.30" r="0.95" fill="#8e00d6"/>
<circle cx="551.63" cy="76.51" r="0.95" fill="#8e00d6"/>
<circle cx="551.82" cy="75.02" r="0.95" fill="#8e00d6"/>
<circle cx="552.01" cy="75.06" r="0.95" fill="#8e00d6"/>
<circle cx="552.20" cy="83.43" r="0.95" fill="#8e00d6"/>
<circle cx="552.39" cy="80.07" r="0.95" fill="#8e00d6"/>
<circle cx="552.58" cy="76.69" r="0.95" fill="#8e00d6"/>
<circle cx="552.77" cy="74.12" r="0.95" fill="#8e00d6"/>
<circle cx="552.96" cy="77.44" r="0.95" fill="#8e00d6"/>
<circle cx="553.15" cy="77.52" r="0.95" fill="#8e00d6"/>
<circle cx="553.60" cy="88.00" r="0.95" fill="#8e00d6"/>
<circle cx="554.00" cy="120.60" r="0.95" fill="#8e00d6"/>
<circle cx="554.20" cy="130.50" r="0.95" fill="#8e00d6"/>
<circle cx="554.40" cy="144.00" r="0.95" fill="#8e00d6"/>
<circle cx="554.60" cy="166.40" r="0.95" fill="#8e00d6"/>
<circle cx="555.00" cy="155.00" r="0.95" fill="#8e00d6"/>
<circle cx="555.30" cy="160.00" r="0.95" fill="#8e00d6"/>
<circle cx="555.70" cy="148.00" r="0.95" fill="#8e00d6"/>
<circle cx="556.00" cy="158.00" r="0.95" fill="#8e00d6"/>
<circle cx="556.40" cy="152.00" r="0.95" fill="#8e00d6"/>
<circle cx="556.80" cy="162.00" r="0.95" fill="#8e00d6"/>
<circle cx="557.20" cy="147.00" r="0.95" fill="#8e00d6"/>
<circle cx="557.60" cy="155.00" r="0.95" fill="#8e00d6"/>
<circle cx="558.00" cy="150.00" r="0.95" fill="#8e00d6"/>
<circle cx="558.40" cy="158.00" r="0.95" fill="#8e00d6"/>
<circle cx="558.80" cy="146.00" r="0.95" fill="#8e00d6"/>
<circle cx="559.20" cy="152.00" r="0.95" fill="#8e00d6"/>
<circle cx="559.60" cy="144.00" r="0.95" fill="#8e00d6"/>
<circle cx="560.00" cy="145.65" r="0.95" fill="#8e00d6"/>
<circle cx="560.19" cy="143.83" r="0.95" fill="#8e00d6"/>
<circle cx="560.38" cy="146.82" r="0.95" fill="#8e00d6"/>
<circle cx="560.57" cy="147.71" r="0.95" fill="#8e00d6"/>
<circle cx="560.76" cy="141.12" r="0.95" fill="#8e00d6"/>
<circle cx="560.95" cy="141.76" r="0.95" fill="#8e00d6"/>
<circle cx="561.14" cy="140.34" r="0.95" fill="#8e00d6"/>
<circle cx="561.33" cy="141.63" r="0.95" fill="#8e00d6"/>
<circle cx="561.52" cy="140.70" r="0.95" fill="#8e00d6"/>
<circle cx="561.71" cy="143.96" r="0.95" fill="#8e00d6"/>
<circle cx="561.90" cy="144.45" r="0.95" fill="#8e00d6"/>
<circle cx="562.09" cy="141.33" r="0.95" fill="#8e00d6"/>
<circle cx="562.28" cy="144.14" r="0.95" fill="#8e00d6"/>
<circle cx="562.47" cy="142.73" r="0.95" fill="#8e00d6"/>
<circle cx="562.66" cy="139.04" r="0.95" fill="#8e00d6"/>
<circle cx="562.85" cy="142.33" r="0.95" fill="#8e00d6"/>
<circle cx="563.04" cy="144.48" r="0.95" fill="#8e00d6"/>
<circle cx="563.23" cy="141.63" r="0.95" fill="#8e00d6"/>
<circle cx="563.42" cy="145.53" r="0.95" fill="#8e00d6"/>
<circle cx="563.61" cy="144.89" r="0.95" fill="#8e00d6"/>
<circle cx="563.80" cy="138.86" r="0.95" fill="#8e00d6"/>
<circle cx="563.99" cy="143.42" r="0.95" fill="#8e00d6"/>
<circle cx="564.18" cy="145.51" r="0.95" fill="#8e00d6"/>
<circle cx="564.37" cy="146.38" r="0.95" fill="#8e00d6"/>
<circle cx="564.56" cy="143.23" r="0.95" fill="#8e00d6"/>
<circle cx="564.75" cy="142.91" r="0.95" fill="#8e00d6"/>
<circle cx="564.94" cy="140.26" r="0.95" fill="#8e00d6"/>
<circle cx="565.13" cy="143.96" r="0.95" fill="#8e00d6"/>
<circle cx="565.32" cy="146.41" r="0.95" fill="#8e00d6"/>
<circle cx="565.51" cy="144.11" r="0.95" fill="#8e00d6"/>
<circle cx="565.70" cy="142.68" r="0.95" fill="#8e00d6"/>
<circle cx="565.89" cy="142.15" r="0.95" fill="#8e00d6"/>
<circle cx="566.08" cy="141.32" r="0.95" fill="#8e00d6"/>
<circle cx="566.27" cy="142.93" r="0.95" fill="#8e00d6"/>
<circle cx="566.46" cy="140.97" r="0.95" fill="#8e00d6"/>
<circle cx="566.65" cy="145.76" r="0.95" fill="#8e00d6"/>
<circle cx="566.84" cy="147.80" r="0.95" fill="#8e00d6"/>
<circle cx="567.03" cy="140.16" r="0.95" fill="#8e00d6"/>
<circle cx="567.22" cy="144.59" r="0.95" fill="#8e00d6"/>
<circle cx="567.41" cy="144.90" r="0.95" fill="#8e00d6"/>
<circle cx="567.60" cy="140.41" r="0.95" fill="#8e00d6"/>
<circle cx="567.79" cy="142.45" r="0.95" fill="#8e00d6"/>
<circle cx="567.98" cy="144.17" r="0.95" fill="#8e00d6"/>
<circle cx="568.17" cy="143.14" r="0.95" fill="#8e00d6"/>
<circle cx="568.36" cy="142.01" r="0.95" fill="#8e00d6"/>
<circle cx="568.55" cy="145.00" r="0.95" fill="#8e00d6"/>
<circle cx="568.74" cy="142.95" r="0.95" fill="#8e00d6"/>
<circle cx="568.93" cy="143.44" r="0.95" fill="#8e00d6"/>
<circle cx="569.12" cy="141.51" r="0.95" fill="#8e00d6"/>
<circle cx="569.31" cy="137.32" r="0.95" fill="#8e00d6"/>
<circle cx="569.50" cy="142.69" r="0.95" fill="#8e00d6"/>
<circle cx="569.69" cy="146.21" r="0.95" fill="#8e00d6"/>
<circle cx="569.88" cy="144.00" r="0.95" fill="#8e00d6"/>
<circle cx="570.07" cy="145.75" r="0.95" fill="#8e00d6"/>
<circle cx="570.26" cy="141.60" r="0.95" fill="#8e00d6"/>
<circle cx="570.45" cy="150.03" r="0.95" fill="#8e00d6"/>
<circle cx="570.64" cy="143.13" r="0.95" fill="#8e00d6"/>
<circle cx="570.83" cy="145.73" r="0.95" fill="#8e00d6"/>
<circle cx="571.02" cy="146.94" r="0.95" fill="#8e00d6"/>
<circle cx="571.21" cy="143.67" r="0.95" fill="#8e00d6"/>
<circle cx="571.40" cy="141.05" r="0.95" fill="#8e00d6"/>
<circle cx="571.59" cy="142.36" r="0.95" fill="#8e00d6"/>
<circle cx="571.78" cy="143.60" r="0.95" fill="#8e00d6"/>
<circle cx="571.97" cy="147.18" r="0.95" fill="#8e00d6"/>
<circle cx="572.16" cy="141.22" r="0.95" fill="#8e00d6"/>
<circle cx="572.35" cy="141.64" r="0.95" fill="#8e00d6"/>
<circle cx="572.54" cy="144.02" r="0.95" fill="#8e00d6"/>
<circle cx="572.73" cy="141.93" r="0.95" fill="#8e00d6"/>
<circle cx="572.92" cy="144.21" r="0.95" fill="#8e00d6"/>
<circle cx="573.11" cy="142.32" r="0.95" fill="#8e00d6"/>
<circle cx="573.30" cy="139.82" r="0.95" fill="#8e00d6"/>
<circle cx="573.49" cy="143.07" r="0.95" fill="#8e00d6"/>
<circle cx="573.68" cy="140.86" r="0.95" fill="#8e00d6"/>
<circle cx="573.87" cy="140.82" r="0.95" fill="#8e00d6"/>
<circle cx="574.06" cy="145.00" r="0.95" fill="#8e00d6"/>
<circle cx="574.25" cy="146.91" r="0.95" fill="#8e00d6"/>
<circle cx="574.44" cy="142.47" r="0.95" fill="#8e00d6"/>
<circle cx="574.63" cy="144.22" r="0.95" fill="#8e00d6"/>
<circle cx="574.82" cy="145.73" r="0.95" fill="#8e00d6"/>
<circle cx="575.01" cy="140.36" r="0.95" fill="#8e00d6"/>
<circle cx="575.20" cy="144.57" r="0.95" fill="#8e00d6"/>
<circle cx="575.39" cy="144.11" r="0.95" fill="#8e00d6"/>
<circle cx="575.58" cy="141.76" r="0.95" fill="#8e00d6"/>
<circle cx="575.77" cy="148.59" r="0.95" fill="#8e00d6"/>
<circle cx="575.96" cy="141.86" r="0.95" fill="#8e00d6"/>
<circle cx="576.15" cy="139.59" r="0.95" fill="#8e00d6"/>
<circle cx="576.34" cy="143.10" r="0.95" fill="#8e00d6"/>
<circle cx="576.53" cy="145.52" r="0.95" fill="#8e00d6"/>
<circle cx="576.72" cy="141.37" r="0.95" fill="#8e00d6"/>
<circle cx="576.91" cy="147.78" r="0.95" fill="#8e00d6"/>
<circle cx="577.10" cy="143.17" r="0.95" fill="#8e00d6"/>
<circle cx="577.29" cy="144.40" r="0.95" fill="#8e00d6"/>
<circle cx="577.48" cy="144.12" r="0.95" fill="#8e00d6"/>
<circle cx="577.67" cy="142.79" r="0.95" fill="#8e00d6"/>
<circle cx="577.86" cy="142.68" r="0.95" fill="#8e00d6"/>
<circle cx="578.05" cy="142.50" r="0.95" fill="#8e00d6"/>
<circle cx="578.24" cy="143.58" r="0.95" fill="#8e00d6"/>
<circle cx="578.43" cy="146.71" r="0.95" fill="#8e00d6"/>
<circle cx="578.62" cy="144.92" r="0.95" fill="#8e00d6"/>
<circle cx="578.81" cy="145.45" r="0.95" fill="#8e00d6"/>
<circle cx="579.00" cy="144.27" r="0.95" fill="#8e00d6"/>
<circle cx="579.19" cy="141.60" r="0.95" fill="#8e00d6"/>
<circle cx="579.38" cy="147.06" r="0.95" fill="#8e00d6"/>
<circle cx="579.57" cy="145.09" r="0.95" fill="#8e00d6"/>
<circle cx="579.76" cy="142.96" r="0.95" fill="#8e00d6"/>
<circle cx="579.95" cy="145.37" r="0.95" fill="#8e00d6"/>
<circle cx="580.14" cy="142.42" r="0.95" fill="#8e00d6"/>
<circle cx="580.33" cy="146.83" r="0.95" fill="#8e00d6"/>
<circle cx="580.52" cy="147.69" r="0.95" fill="#8e00d6"/>
<circle cx="580.71" cy="149.43" r="0.95" fill="#8e00d6"/>
<circle cx="580.90" cy="143.36" r="0.95" fill="#8e00d6"/>
<circle cx="581.09" cy="143.75" r="0.95" fill="#8e00d6"/>
<circle cx="581.28" cy="141.52" r="0.95" fill="#8e00d6"/>
<circle cx="581.47" cy="141.74" r="0.95" fill="#8e00d6"/>
<circle cx="581.66" cy="145.02" r="0.95" fill="#8e00d6"/>
<circle cx="581.85" cy="142.48" r="0.95" fill="#8e00d6"/>
<circle cx="582.04" cy="142.79" r="0.95" fill="#8e00d6"/>
<circle cx="582.23" cy="143.22" r="0.95" fill="#8e00d6"/>
<circle cx="582.42" cy="147.76" r="0.95" fill="#8e00d6"/>
<circle cx="582.61" cy="145.74" r="0.95" fill="#8e00d6"/>
<circle cx="582.80" cy="142.33" r="0.95" fill="#8e00d6"/>
<circle cx="582.99" cy="143.90" r="0.95" fill="#8e00d6"/>
<circle cx="583.18" cy="147.88" r="0.95" fill="#8e00d6"/>
<circle cx="583.37" cy="146.75" r="0.95" fill="#8e00d6"/>
<circle cx="583.56" cy="145.74" r="0.95" fill="#8e00d6"/>
<circle cx="583.75" cy="145.84" r="0.95" fill="#8e00d6"/>
<circle cx="583.94" cy="144.51" r="0.95" fill="#8e00d6"/>
<circle cx="584.13" cy="145.28" r="0.95" fill="#8e00d6"/>
<circle cx="584.32" cy="146.75" r="0.95" fill="#8e00d6"/>
<circle cx="584.51" cy="146.40" r="0.95" fill="#8e00d6"/>
<circle cx="584.70" cy="141.93" r="0.95" fill="#8e00d6"/>
<circle cx="584.89" cy="141.26" r="0.95" fill="#8e00d6"/>
<circle cx="585.08" cy="146.19" r="0.95" fill="#8e00d6"/>
<circle cx="585.27" cy="145.71" r="0.95" fill="#8e00d6"/>
<circle cx="585.46" cy="142.87" r="0.95" fill="#8e00d6"/>
<circle cx="585.65" cy="146.47" r="0.95" fill="#8e00d6"/>
<circle cx="585.84" cy="142.70" r="0.95" fill="#8e00d6"/>
<circle cx="586.03" cy="142.69" r="0.95" fill="#8e00d6"/>
<circle cx="586.22" cy="143.35" r="0.95" fill="#8e00d6"/>
<circle cx="586.41" cy="148.51" r="0.95" fill="#8e00d6"/>
<circle cx="586.60" cy="140.86" r="0.95" fill="#8e00d6"/>
<circle cx="586.79" cy="145.00" r="0.95" fill="#8e00d6"/>
<circle cx="586.98" cy="146.28" r="0.95" fill="#8e00d6"/>
<circle cx="587.17" cy="147.08" r="0.95" fill="#8e00d6"/>
<circle cx="587.36" cy="145.45" r="0.95" fill="#8e00d6"/>
<circle cx="587.55" cy="143.60" r="0.95" fill="#8e00d6"/>
<circle cx="587.74" cy="142.18" r="0.95" fill="#8e00d6"/>
<circle cx="587.93" cy="142.98" r="0.95" fill="#8e00d6"/>
<circle cx="588.12" cy="146.02" r="0.95" fill="#8e00d6"/>
<circle cx="588.31" cy="144.59" r="0.95" fill="#8e00d6"/>
<circle cx="588.50" cy="140.95" r="0.95" fill="#8e00d6"/>
<circle cx="588.69" cy="145.37" r="0.95" fill="#8e00d6"/>
<circle cx="588.88" cy="142.10" r="0.95" fill="#8e00d6"/>
<circle cx="589.07" cy="145.50" r="0.95" fill="#8e00d6"/>
<circle cx="589.26" cy="148.06" r="0.95" fill="#8e00d6"/>
<circle cx="589.45" cy="150.65" r="0.95" fill="#8e00d6"/>
<circle cx="589.64" cy="144.15" r="0.95" fill="#8e00d6"/>
<circle cx="589.83" cy="142.73" r="0.95" fill="#8e00d6"/>
<circle cx="590.02" cy="140.33" r="0.95" fill="#8e00d6"/>
<circle cx="590.21" cy="146.03" r="0.95" fill="#8e00d6"/>
<circle cx="590.40" cy="144.28" r="0.95" fill="#8e00d6"/>
<circle cx="590.59" cy="143.77" r="0.95" fill="#8e00d6"/>
<circle cx="590.78" cy="140.61" r="0.95" fill="#8e00d6"/>
<circle cx="590.97" cy="143.09" r="0.95" fill="#8e00d6"/>
<circle cx="591.16" cy="146.64" r="0.95" fill="#8e00d6"/>
<circle cx="591.35" cy="146.34" r="0.95" fill="#8e00d6"/>
<circle cx="591.54" cy="144.53" r="0.95" fill="#8e00d6"/>
<circle cx="591.73" cy="144.31" r="0.95" fill="#8e00d6"/>
<circle cx="591.92" cy="140.56" r="0.95" fill="#8e00d6"/>
<circle cx="592.11" cy="147.97" r="0.95" fill="#8e00d6"/>
<circle cx="592.30" cy="144.44" r="0.95" fill="#8e00d6"/>
<circle cx="592.49" cy="144.39" r="0.95" fill="#8e00d6"/>
<circle cx="592.68" cy="145.92" r="0.95" fill="#8e00d6"/>
<circle cx="592.87" cy="145.78" r="0.95" fill="#8e00d6"/>
<circle cx="593.06" cy="146.07" r="0.95" fill="#8e00d6"/>
<circle cx="593.25" cy="141.11" r="0.95" fill="#8e00d6"/>
<circle cx="593.44" cy="146.54" r="0.95" fill="#8e00d6"/>
<circle cx="593.63" cy="144.17" r="0.95" fill="#8e00d6"/>
<circle cx="593.82" cy="143.70" r="0.95" fill="#8e00d6"/>
<circle cx="594.01" cy="149.41" r="0.95" fill="#8e00d6"/>
<circle cx="594.20" cy="147.14" r="0.95" fill="#8e00d6"/>
<circle cx="594.39" cy="148.39" r="0.95" fill="#8e00d6"/>
<circle cx="594.58" cy="142.79" r="0.95" fill="#8e00d6"/>
<circle cx="594.77" cy="147.48" r="0.95" fill="#8e00d6"/>
<circle cx="594.96" cy="142.43" r="0.95" fill="#8e00d6"/>
<circle cx="595.15" cy="139.43" r="0.95" fill="#8e00d6"/>
<circle cx="595.34" cy="145.64" r="0.95" fill="#8e00d6"/>
<circle cx="595.53" cy="145.49" r="0.95" fill="#8e00d6"/>
<circle cx="595.72" cy="145.12" r="0.95" fill="#8e00d6"/>
<circle cx="595.91" cy="148.16" r="0.95" fill="#8e00d6"/>
<circle cx="596.10" cy="144.77" r="0.95" fill="#8e00d6"/>
<circle cx="596.29" cy="146.77" r="0.95" fill="#8e00d6"/>
<circle cx="596.48" cy="145.34" r="0.95" fill="#8e00d6"/>
<circle cx="596.67" cy="144.39" r="0.95" fill="#8e00d6"/>
<circle cx="596.86" cy="144.41" r="0.95" fill="#8e00d6"/>
<circle cx="597.05" cy="146.90" r="0.95" fill="#8e00d6"/>
<circle cx="597.24" cy="144.75" r="0.95" fill="#8e00d6"/>
<circle cx="597.43" cy="147.13" r="0.95" fill="#8e00d6"/>
<circle cx="597.62" cy="145.75" r="0.95" fill="#8e00d6"/>
<circle cx="597.81" cy="144.94" r="0.95" fill="#8e00d6"/>
<circle cx="598.00" cy="143.52" r="0.95" fill="#8e00d6"/>
<circle cx="598.19" cy="140.63" r="0.95" fill="#8e00d6"/>
<circle cx="598.38" cy="143.15" r="0.95" fill="#8e00d6"/>
<circle cx="598.57" cy="146.06" r="0.95" fill="#8e00d6"/>
<circle cx="598.76" cy="145.80" r="0.95" fill="#8e00d6"/>
<circle cx="598.95" cy="143.33" r="0.95" fill="#8e00d6"/>
<circle cx="599.14" cy="148.46" r="0.95" fill="#8e00d6"/>
<circle cx="599.33" cy="140.70" r="0.95" fill="#8e00d6"/>
<circle cx="599.52" cy="149.35" r="0.95" fill="#8e00d6"/>
<circle cx="599.71" cy="142.03" r="0.95" fill="#8e00d6"/>
<circle cx="599.90" cy="146.89" r="0.95" fill="#8e00d6"/>
<circle cx="600.09" cy="143.54" r="0.95" fill="#8e00d6"/>
<circle cx="600.28" cy="147.55" r="0.95" fill="#8e00d6"/>
<circle cx="600.47" cy="148.33" r="0.95" fill="#8e00d6"/>
<circle cx="600.66" cy="145.58" r="0.95" fill="#8e00d6"/>
<circle cx="600.85" cy="143.10" r="0.95" fill="#8e00d6"/>
<circle cx="601.04" cy="141.13" r="0.95" fill="#8e00d6"/>
<circle cx="601.23" cy="141.72" r="0.95" fill="#8e00d6"/>
<circle cx="601.42" cy="144.89" r="0.95" fill="#8e00d6"/>
<circle cx="601.61" cy="146.63" r="0.95" fill="#8e00d6"/>
<circle cx="601.80" cy="144.25" r="0.95" fill="#8e00d6"/>
<circle cx="601.99" cy="143.29" r="0.95" fill="#8e00d6"/>
<circle cx="602.18" cy="146.42" r="0.95" fill="#8e00d6"/>
<circle cx="602.37" cy="144.56" r="0.95" fill="#8e00d6"/>
<circle cx="602.56" cy="144.67" r="0.95" fill="#8e00d6"/>
<circle cx="602.75" cy="143.90" r="0.95" fill="#8e00d6"/>
<circle cx="602.94" cy="140.20" r="0.95" fill="#8e00d6"/>
<circle cx="603.13" cy="141.84" r="0.95" fill="#8e00d6"/>
<circle cx="603.32" cy="147.93" r="0.95" fill="#8e00d6"/>
<circle cx="603.51" cy="143.86" r="0.95" fill="#8e00d6"/>
<circle cx="603.70" cy="146.28" r="0.95" fill="#8e00d6"/>
<circle cx="603.89" cy="139.78" r="0.95" fill="#8e00d6"/>
<circle cx="604.08" cy="143.12" r="0.95" fill="#8e00d6"/>
<circle cx="604.27" cy="146.52" r="0.95" fill="#8e00d6"/>
<circle cx="604.46" cy="142.88" r="0.95" fill="#8e00d6"/>
<circle cx="604.65" cy="144.84" r="0.95" fill="#8e00d6"/>
<circle cx="604.84" cy="146.26" r="0.95" fill="#8e00d6"/>
<circle cx="605.03" cy="143.32" r="0.95" fill="#8e00d6"/>
<circle cx="605.22" cy="139.64" r="0.95" fill="#8e00d6"/>
<circle cx="605.41" cy="144.16" r="0.95" fill="#8e00d6"/>
<circle cx="605.60" cy="144.16" r="0.95" fill="#8e00d6"/>
<circle cx="605.79" cy="141.73" r="0.95" fill="#8e00d6"/>
<circle cx="605.98" cy="147.80" r="0.95" fill="#8e00d6"/>
<circle cx="606.17" cy="144.07" r="0.95" fill="#8e00d6"/>
<circle cx="606.36" cy="143.07" r="0.95" fill="#8e00d6"/>
<circle cx="606.55" cy="148.81" r="0.95" fill="#8e00d6"/>
<circle cx="606.74" cy="144.90" r="0.95" fill="#8e00d6"/>
<circle cx="606.93" cy="142.04" r="0.95" fill="#8e00d6"/>
<circle cx="607.12" cy="146.64" r="0.95" fill="#8e00d6"/>
<circle cx="607.31" cy="146.91" r="0.95" fill="#8e00d6"/>
<circle cx="607.50" cy="145.83" r="0.95" fill="#8e00d6"/>
<circle cx="607.69" cy="143.10" r="0.95" fill="#8e00d6"/>
<circle cx="607.88" cy="145.26" r="0.95" fill="#8e00d6"/>
<circle cx="608.07" cy="142.44" r="0.95" fill="#8e00d6"/>
<circle cx="608.26" cy="148.01" r="0.95" fill="#8e00d6"/>
<circle cx="608.45" cy="145.87" r="0.95" fill="#8e00d6"/>
<circle cx="608.64" cy="144.20" r="0.95" fill="#8e00d6"/>
<circle cx="608.83" cy="144.49" r="0.95" fill="#8e00d6"/>
<circle cx="609.02" cy="147.55" r="0.95" fill="#8e00d6"/>
<circle cx="609.21" cy="146.49" r="0.95" fill="#8e00d6"/>
<circle cx="609.40" cy="143.90" r="0.95" fill="#8e00d6"/>
<circle cx="609.59" cy="144.90" r="0.95" fill="#8e00d6"/>
<circle cx="609.78" cy="145.81" r="0.95" fill="#8e00d6"/>
<circle cx="609.97" cy="142.42" r="0.95" fill="#8e00d6"/>
<circle cx="610.16" cy="142.48" r="0.95" fill="#8e00d6"/>
<circle cx="610.35" cy="143.88" r="0.95" fill="#8e00d6"/>
<circle cx="610.54" cy="147.29" r="0.95" fill="#8e00d6"/>
<circle cx="610.73" cy="145.32" r="0.95" fill="#8e00d6"/>
<circle cx="610.92" cy="143.84" r="0.95" fill="#8e00d6"/>
<circle cx="611.11" cy="143.30" r="0.95" fill="#8e00d6"/>
<circle cx="611.30" cy="143.79" r="0.95" fill="#8e00d6"/>
<circle cx="611.49" cy="147.04" r="0.95" fill="#8e00d6"/>
<circle cx="611.68" cy="145.24" r="0.95" fill="#8e00d6"/>
<circle cx="611.87" cy="146.98" r="0.95" fill="#8e00d6"/>
<circle cx="612.06" cy="142.29" r="0.95" fill="#8e00d6"/>
<circle cx="612.25" cy="142.79" r="0.95" fill="#8e00d6"/>
<circle cx="612.44" cy="142.87" r="0.95" fill="#8e00d6"/>
<circle cx="612.63" cy="143.02" r="0.95" fill="#8e00d6"/>
<circle cx="612.82" cy="149.22" r="0.95" fill="#8e00d6"/>
<circle cx="613.01" cy="148.90" r="0.95" fill="#8e00d6"/>
<circle cx="613.20" cy="140.86" r="0.95" fill="#8e00d6"/>
<circle cx="613.39" cy="146.88" r="0.95" fill="#8e00d6"/>
<circle cx="613.58" cy="139.04" r="0.95" fill="#8e00d6"/>
<circle cx="613.77" cy="144.30" r="0.95" fill="#8e00d6"/>
<circle cx="613.96" cy="144.22" r="0.95" fill="#8e00d6"/>
<circle cx="614.15" cy="143.13" r="0.95" fill="#8e00d6"/>
<circle cx="614.34" cy="148.58" r="0.95" fill="#8e00d6"/>
<circle cx="614.53" cy="143.05" r="0.95" fill="#8e00d6"/>
<circle cx="614.72" cy="147.37" r="0.95" fill="#8e00d6"/>
<circle cx="614.91" cy="142.14" r="0.95" fill="#8e00d6"/>
<circle cx="615.10" cy="145.28" r="0.95" fill="#8e00d6"/>
<circle cx="615.29" cy="148.08" r="0.95" fill="#8e00d6"/>
<circle cx="615.48" cy="148.18" r="0.95" fill="#8e00d6"/>
<circle cx="615.67" cy="148.81" r="0.95" fill="#8e00d6"/>
<circle cx="615.86" cy="145.93" r="0.95" fill="#8e00d6"/>
<circle cx="616.05" cy="142.94" r="0.95" fill="#8e00d6"/>
<circle cx="616.24" cy="140.71" r="0.95" fill="#8e00d6"/>
<circle cx="616.43" cy="144.80" r="0.95" fill="#8e00d6"/>
<circle cx="616.62" cy="146.02" r="0.95" fill="#8e00d6"/>
<circle cx="616.81" cy="144.29" r="0.95" fill="#8e00d6"/>
<circle cx="617.00" cy="143.73" r="0.95" fill="#8e00d6"/>
<circle cx="617.19" cy="148.74" r="0.95" fill="#8e00d6"/>
<circle cx="617.38" cy="142.18" r="0.95" fill="#8e00d6"/>
<circle cx="617.57" cy="144.52" r="0.95" fill="#8e00d6"/>
<circle cx="617.76" cy="142.37" r="0.95" fill="#8e00d6"/>
<circle cx="617.95" cy="142.19" r="0.95" fill="#8e00d6"/>
<circle cx="618.14" cy="145.83" r="0.95" fill="#8e00d6"/>
<circle cx="618.33" cy="150.05" r="0.95" fill="#8e00d6"/>
<circle cx="618.52" cy="144.39" r="0.95" fill="#8e00d6"/>
<circle cx="618.71" cy="146.93" r="0.95" fill="#8e00d6"/>
<circle cx="618.90" cy="145.20" r="0.95" fill="#8e00d6"/>
<circle cx="619.09" cy="145.89" r="0.95" fill="#8e00d6"/>
<circle cx="619.28" cy="144.79" r="0.95" fill="#8e00d6"/>
<circle cx="619.47" cy="145.07" r="0.95" fill="#8e00d6"/>
<circle cx="619.66" cy="145.83" r="0.95" fill="#8e00d6"/>
<circle cx="619.85" cy="144.52" r="0.95" fill="#8e00d6"/>
<circle cx="620.04" cy="142.31" r="0.95" fill="#8e00d6"/>
<circle cx="620.23" cy="146.96" r="0.95" fill="#8e00d6"/>
<circle cx="620.42" cy="147.29" r="0.95" fill="#8e00d6"/>
<circle cx="620.61" cy="142.43" r="0.95" fill="#8e00d6"/>
<circle cx="620.80" cy="143.62" r="0.95" fill="#8e00d6"/>
<circle cx="620.99" cy="141.75" r="0.95" fill="#8e00d6"/>
<circle cx="621.18" cy="140.59" r="0.95" fill="#8e00d6"/>
<circle cx="621.37" cy="140.89" r="0.95" fill="#8e00d6"/>
<circle cx="621.56" cy="145.01" r="0.95" fill="#8e00d6"/>
<circle cx="621.75" cy="138.79" r="0.95" fill="#8e00d6"/>
<circle cx="621.94" cy="142.60" r="0.95" fill="#8e00d6"/>
<circle cx="622.13" cy="147.93" r="0.95" fill="#8e00d6"/>
<circle cx="622.32" cy="140.97" r="0.95" fill="#8e00d6"/>
<circle cx="622.51" cy="142.09" r="0.95" fill="#8e00d6"/>
<circle cx="622.70" cy="142.86" r="0.95" fill="#8e00d6"/>
<circle cx="622.89" cy="144.74" r="0.95" fill="#8e00d6"/>
<circle cx="623.08" cy="150.33" r="0.95" fill="#8e00d6"/>
<circle cx="623.27" cy="143.76" r="0.95" fill="#8e00d6"/>
<circle cx="623.46" cy="145.38" r="0.95" fill="#8e00d6"/>
<circle cx="623.65" cy="144.64" r="0.95" fill="#8e00d6"/>
<circle cx="623.84" cy="144.28" r="0.95" fill="#8e00d6"/>
<circle cx="624.03" cy="144.63" r="0.95" fill="#8e00d6"/>
<circle cx="624.22" cy="142.82" r="0.95" fill="#8e00d6"/>
<circle cx="624.41" cy="144.61" r="0.95" fill="#8e00d6"/>
<circle cx="624.60" cy="145.82" r="0.95" fill="#8e00d6"/>
<circle cx="624.79" cy="140.65" r="0.95" fill="#8e00d6"/>
<circle cx="624.98" cy="143.14" r="0.95" fill="#8e00d6"/>
<circle cx="625.17" cy="142.73" r="0.95" fill="#8e00d6"/>
<circle cx="625.36" cy="145.19" r="0.95" fill="#8e00d6"/>
<circle cx="625.55" cy="140.27" r="0.95" fill="#8e00d6"/>
<circle cx="625.74" cy="147.03" r="0.95" fill="#8e00d6"/>
<circle cx="625.93" cy="145.49" r="0.95" fill="#8e00d6"/>
<circle cx="626.12" cy="144.80" r="0.95" fill="#8e00d6"/>
<circle cx="626.31" cy="142.62" r="0.95" fill="#8e00d6"/>
<circle cx="626.50" cy="144.39" r="0.95" fill="#8e00d6"/>
<circle cx="626.69" cy="145.68" r="0.95" fill="#8e00d6"/>
<circle cx="626.88" cy="142.28" r="0.95" fill="#8e00d6"/>
<circle cx="627.07" cy="144.86" r="0.95" fill="#8e00d6"/>
<circle cx="627.26" cy="140.55" r="0.95" fill="#8e00d6"/>
<circle cx="627.45" cy="142.20" r="0.95" fill="#8e00d6"/>
<circle cx="627.64" cy="137.14" r="0.95" fill="#8e00d6"/>
<circle cx="627.83" cy="142.92" r="0.95" fill="#8e00d6"/>
<circle cx="628.02" cy="139.00" r="0.95" fill="#8e00d6"/>
<circle cx="628.21" cy="144.87" r="0.95" fill="#8e00d6"/>
<circle cx="628.40" cy="146.75" r="0.95" fill="#8e00d6"/>
<circle cx="628.59" cy="141.62" r="0.95" fill="#8e00d6"/>
<circle cx="628.78" cy="143.49" r="0.95" fill="#8e00d6"/>
<circle cx="628.97" cy="147.81" r="0.95" fill="#8e00d6"/>
<circle cx="629.16" cy="141.96" r="0.95" fill="#8e00d6"/>
<circle cx="629.35" cy="141.91" r="0.95" fill="#8e00d6"/>
<circle cx="629.54" cy="145.11" r="0.95" fill="#8e00d6"/>
<circle cx="629.73" cy="145.50" r="0.95" fill="#8e00d6"/>
<circle cx="629.92" cy="146.89" r="0.95" fill="#8e00d6"/>
<circle cx="630.11" cy="143.12" r="0.95" fill="#8e00d6"/>
<circle cx="630.30" cy="144.31" r="0.95" fill="#8e00d6"/>
<circle cx="630.49" cy="143.02" r="0.95" fill="#8e00d6"/>
<circle cx="630.68" cy="144.48" r="0.95" fill="#8e00d6"/>
<circle cx="630.87" cy="141.64" r="0.95" fill="#8e00d6"/>
<circle cx="631.06" cy="145.21" r="0.95" fill="#8e00d6"/>
<circle cx="631.25" cy="145.47" r="0.95" fill="#8e00d6"/>
<circle cx="631.44" cy="143.25" r="0.95" fill="#8e00d6"/>
<circle cx="631.63" cy="142.01" r="0.95" fill="#8e00d6"/>
<circle cx="631.82" cy="143.34" r="0.95" fill="#8e00d6"/>
<circle cx="632.01" cy="142.61" r="0.95" fill="#8e00d6"/>
<circle cx="632.20" cy="142.39" r="0.95" fill="#8e00d6"/>
<circle cx="632.39" cy="141.84" r="0.95" fill="#8e00d6"/>
<circle cx="632.58" cy="139.60" r="0.95" fill="#8e00d6"/>
<circle cx="632.77" cy="141.68" r="0.95" fill="#8e00d6"/>
<circle cx="632.96" cy="137.11" r="0.95" fill="#8e00d6"/>
<circle cx="633.15" cy="144.37" r="0.95" fill="#8e00d6"/>
<circle cx="633.34" cy="142.44" r="0.95" fill="#8e00d6"/>
<circle cx="633.53" cy="143.65" r="0.95" fill="#8e00d6"/>
<circle cx="633.72" cy="143.71" r="0.95" fill="#8e00d6"/>
<circle cx="633.91" cy="140.93" r="0.95" fill="#8e00d6"/>
<circle cx="634.10" cy="143.39" r="0.95" fill="#8e00d6"/>
<circle cx="634.29" cy="142.49" r="0.95" fill="#8e00d6"/>
<circle cx="634.48" cy="143.99" r="0.95" fill="#8e00d6"/>
<circle cx="634.67" cy="145.13" r="0.95" fill="#8e00d6"/>
<circle cx="634.86" cy="143.40" r="0.95" fill="#8e00d6"/>
<circle cx="635.05" cy="143.28" r="0.95" fill="#8e00d6"/>
<circle cx="635.24" cy="145.52" r="0.95" fill="#8e00d6"/>
<circle cx="635.43" cy="138.61" r="0.95" fill="#8e00d6"/>
<circle cx="635.62" cy="144.79" r="0.95" fill="#8e00d6"/>
<circle cx="635.81" cy="142.48" r="0.95" fill="#8e00d6"/>
<circle cx="636.00" cy="144.25" r="0.95" fill="#8e00d6"/>
<circle cx="636.19" cy="142.70" r="0.95" fill="#8e00d6"/>
<circle cx="636.38" cy="141.87" r="0.95" fill="#8e00d6"/>
<circle cx="636.57" cy="149.12" r="0.95" fill="#8e00d6"/>
<circle cx="636.76" cy="147.12" r="0.95" fill="#8e00d6"/>
<circle cx="636.95" cy="146.29" r="0.95" fill="#8e00d6"/>
<circle cx="637.14" cy="147.35" r="0.95" fill="#8e00d6"/>
<circle cx="637.33" cy="145.91" r="0.95" fill="#8e00d6"/>
<circle cx="637.52" cy="147.29" r="0.95" fill="#8e00d6"/>
<circle cx="637.71" cy="143.39" r="0.95" fill="#8e00d6"/>
<circle cx="637.90" cy="146.48" r="0.95" fill="#8e00d6"/>
<circle cx="638.09" cy="147.22" r="0.95" fill="#8e00d6"/>
<circle cx="638.28" cy="146.24" r="0.95" fill="#8e00d6"/>
<circle cx="638.47" cy="141.00" r="0.95" fill="#8e00d6"/>
<circle cx="638.66" cy="151.85" r="0.95" fill="#8e00d6"/>
<circle cx="638.85" cy="147.59" r="0.95" fill="#8e00d6"/>
<circle cx="639.04" cy="148.81" r="0.95" fill="#8e00d6"/>
<circle cx="639.23" cy="143.32" r="0.95" fill="#8e00d6"/>
<circle cx="639.42" cy="140.09" r="0.95" fill="#8e00d6"/>
<circle cx="639.61" cy="146.87" r="0.95" fill="#8e00d6"/>
<circle cx="639.80" cy="144.67" r="0.95" fill="#8e00d6"/>
<circle cx="639.99" cy="147.60" r="0.95" fill="#8e00d6"/>
<line x1="446.5" y1="15.00" x2="449.5" y2="15.00" stroke="#909090" stroke-width="0.9"/>
<text x="443.3" y="17.60" font-size="7.6" fill="#222" text-anchor="end" textLength="28.0" lengthAdjust="spacingAndGlyphs" >-6.9524</text>
<line x1="446.5" y1="45.75" x2="449.5" y2="45.75" stroke="#909090" stroke-width="0.9"/>
<text x="443.3" y="48.35" font-size="7.6" fill="#222" text-anchor="end" textLength="28.0" lengthAdjust="spacingAndGlyphs" >-6.9526</text>
<line x1="446.5" y1="76.50" x2="449.5" y2="76.50" stroke="#909090" stroke-width="0.9"/>
<text x="443.3" y="79.10" font-size="7.6" fill="#222" text-anchor="end" textLength="28.0" lengthAdjust="spacingAndGlyphs" >-6.9528</text>
<line x1="446.5" y1="107.25" x2="449.5" y2="107.25" stroke="#909090" stroke-width="0.9"/>
<text x="443.3" y="109.85" font-size="7.6" fill="#222" text-anchor="end" textLength="28.0" lengthAdjust="spacingAndGlyphs" >-6.9530</text>
<line x1="446.5" y1="138.00" x2="449.5" y2="138.00" stroke="#909090" stroke-width="0.9"/>
<text x="443.3" y="140.60" font-size="7.6" fill="#222" text-anchor="end" textLength="28.0" lengthAdjust="spacingAndGlyphs" >-6.9532</text>
<line x1="446.5" y1="168.75" x2="449.5" y2="168.75" stroke="#909090" stroke-width="0.9"/>
<text x="443.3" y="171.35" font-size="7.6" fill="#222" text-anchor="end" textLength="28.0" lengthAdjust="spacingAndGlyphs" >-6.9534</text>
<line x1="447.40" y1="171.3" x2="447.40" y2="169.0" stroke="#606060" stroke-width="0.9"/>
<text transform="translate(451.30,176.6) rotate(-45)" font-size="7.7" fill="#222" text-anchor="end">10,300</text>
<line x1="468.75" y1="171.3" x2="468.75" y2="169.0" stroke="#606060" stroke-width="0.9"/>
<text transform="translate(472.65,176.6) rotate(-45)" font-size="7.7" fill="#222" text-anchor="end">10,400</text>
<line x1="490.10" y1="171.3" x2="490.10" y2="169.0" stroke="#606060" stroke-width="0.9"/>
<text transform="translate(494.00,176.6) rotate(-45)" font-size="7.7" fill="#222" text-anchor="end">10,500</text>
<line x1="511.45" y1="171.3" x2="511.45" y2="169.0" stroke="#606060" stroke-width="0.9"/>
<text transform="translate(515.35,176.6) rotate(-45)" font-size="7.7" fill="#222" text-anchor="end">10,600</text>
<line x1="532.80" y1="171.3" x2="532.80" y2="169.0" stroke="#606060" stroke-width="0.9"/>
<text transform="translate(536.70,176.6) rotate(-45)" font-size="7.7" fill="#222" text-anchor="end">10,700</text>
<line x1="554.15" y1="171.3" x2="554.15" y2="169.0" stroke="#606060" stroke-width="0.9"/>
<text transform="translate(558.05,176.6) rotate(-45)" font-size="7.7" fill="#222" text-anchor="end">10,800</text>
<line x1="575.50" y1="171.3" x2="575.50" y2="169.0" stroke="#606060" stroke-width="0.9"/>
<text transform="translate(579.40,176.6) rotate(-45)" font-size="7.7" fill="#222" text-anchor="end">10,900</text>
<line x1="596.85" y1="171.3" x2="596.85" y2="169.0" stroke="#606060" stroke-width="0.9"/>
<text transform="translate(600.75,176.6) rotate(-45)" font-size="7.7" fill="#222" text-anchor="end">11,000</text>
<line x1="618.20" y1="171.3" x2="618.20" y2="169.0" stroke="#606060" stroke-width="0.9"/>
<text transform="translate(622.10,176.6) rotate(-45)" font-size="7.7" fill="#222" text-anchor="end">11,100</text>
<line x1="639.55" y1="171.3" x2="639.55" y2="169.0" stroke="#606060" stroke-width="0.9"/>
<text transform="translate(643.45,176.6) rotate(-45)" font-size="7.7" fill="#222" text-anchor="end">11,200</text>
<line x1="660.90" y1="171.3" x2="660.90" y2="169.0" stroke="#606060" stroke-width="0.9"/>
<text transform="translate(664.80,176.6) rotate(-45)" font-size="7.7" fill="#222" text-anchor="end">11,300</text>
<line x1="682.25" y1="171.3" x2="682.25" y2="169.0" stroke="#606060" stroke-width="0.9"/>
<text transform="translate(686.15,176.6) rotate(-45)" font-size="7.7" fill="#222" text-anchor="end">11,400</text>
<text x="554.6" y="205.9" font-size="9.6" fill="#222" text-anchor="start" textLength="19.9" lengthAdjust="spacingAndGlyphs" >Time</text>
<text transform="translate(408.4,88.8) rotate(-90)" font-size="10.3" font-style="italic" fill="#222" text-anchor="middle">U/N</text>
<text x="489.5" y="33.3" font-size="7" fill="#222" textLength="54.5" lengthAdjust="spacingAndGlyphs"><tspan font-style="italic">f</tspan><tspan font-size="4.6" dy="2.2">a</tspan><tspan dy="-2.2"> = 1.4, </tspan><tspan font-style="italic" font-size="8.5">τ</tspan><tspan font-size="4.6" dy="2.2">p</tspan><tspan dy="-2.2"> = 400</tspan></text>
<rect x="555.2" y="8" width="126.5" height="122" fill="#fff"/>
<line x1="569.0" y1="11.40" x2="570.8" y2="11.40" stroke="#555" stroke-width="0.6"/>
<text class="sm" x="568.0" y="12.65" font-size="3.6" fill="#222" text-anchor="end">−6.9527</text>
<line x1="569.0" y1="26.40" x2="570.8" y2="26.40" stroke="#555" stroke-width="0.6"/>
<text class="sm" x="568.0" y="27.65" font-size="3.6" fill="#222" text-anchor="end">−6.9528</text>
<line x1="569.0" y1="41.40" x2="570.8" y2="41.40" stroke="#555" stroke-width="0.6"/>
<text class="sm" x="568.0" y="42.65" font-size="3.6" fill="#222" text-anchor="end">−6.9529</text>
<line x1="569.0" y1="56.40" x2="570.8" y2="56.40" stroke="#555" stroke-width="0.6"/>
<text class="sm" x="568.0" y="57.65" font-size="3.6" fill="#222" text-anchor="end">−6.953</text>
<line x1="569.0" y1="71.40" x2="570.8" y2="71.40" stroke="#555" stroke-width="0.6"/>
<text class="sm" x="568.0" y="72.65" font-size="3.6" fill="#222" text-anchor="end">−6.9531</text>
<line x1="569.0" y1="86.40" x2="570.8" y2="86.40" stroke="#555" stroke-width="0.6"/>
<text class="sm" x="568.0" y="87.65" font-size="3.6" fill="#222" text-anchor="end">−6.9532</text>
<line x1="569.0" y1="101.40" x2="570.8" y2="101.40" stroke="#555" stroke-width="0.6"/>
<text class="sm" x="568.0" y="102.65" font-size="3.6" fill="#222" text-anchor="end">−6.9533</text>
<line x1="569.0" y1="116.40" x2="570.8" y2="116.40" stroke="#555" stroke-width="0.6"/>
<text class="sm" x="568.0" y="117.65" font-size="3.6" fill="#222" text-anchor="end">−6.9534</text>
<line x1="582.60" y1="116.4" x2="582.60" y2="114.80000000000001" stroke="#555" stroke-width="0.6"/>
<text class="sm" x="582.60" y="121.1" font-size="3.6" fill="#222" text-anchor="middle">10,800</text>
<line x1="595.83" y1="116.4" x2="595.83" y2="114.80000000000001" stroke="#555" stroke-width="0.6"/>
<text class="sm" x="595.83" y="121.1" font-size="3.6" fill="#222" text-anchor="middle">10,810</text>
<line x1="609.06" y1="116.4" x2="609.06" y2="114.80000000000001" stroke="#555" stroke-width="0.6"/>
<text class="sm" x="609.06" y="121.1" font-size="3.6" fill="#222" text-anchor="middle">10,820</text>
<line x1="622.29" y1="116.4" x2="622.29" y2="114.80000000000001" stroke="#555" stroke-width="0.6"/>
<text class="sm" x="622.29" y="121.1" font-size="3.6" fill="#222" text-anchor="middle">10,830</text>
<line x1="635.52" y1="116.4" x2="635.52" y2="114.80000000000001" stroke="#555" stroke-width="0.6"/>
<text class="sm" x="635.52" y="121.1" font-size="3.6" fill="#222" text-anchor="middle">10,840</text>
<line x1="648.75" y1="116.4" x2="648.75" y2="114.80000000000001" stroke="#555" stroke-width="0.6"/>
<text class="sm" x="648.75" y="121.1" font-size="3.6" fill="#222" text-anchor="middle">10,850</text>
<line x1="661.98" y1="116.4" x2="661.98" y2="114.80000000000001" stroke="#555" stroke-width="0.6"/>
<text class="sm" x="661.98" y="121.1" font-size="3.6" fill="#222" text-anchor="middle">10,860</text>
<line x1="675.21" y1="116.4" x2="675.21" y2="114.80000000000001" stroke="#555" stroke-width="0.6"/>
<text class="sm" x="675.21" y="121.1" font-size="3.6" fill="#222" text-anchor="middle">10,870</text>
<text class="sm" x="623" y="127.2" font-size="4.6" fill="#222" text-anchor="middle">Time</text>
<text class="sm" transform="translate(555.6,63.8) rotate(-90)" font-size="5.6" font-style="italic" fill="#222" text-anchor="middle">U/N</text>
<rect x="570.8" y="11.4" width="104.60000000000002" height="105.0" fill="none" stroke="#555" stroke-width="0.8"/>
<line x1="570.8" y1="92.5" x2="675.4" y2="92.5" stroke="#2fa88e" stroke-width="1"/>
<path d="M570.90,29.10 L572.10,25.30 L573.10,27.80 L574.70,21.70 L575.70,24.90 L576.20,27.20 L577.60,24.60 L579.20,27.50 L580.10,27.50 L581.40,30.00 L583.00,27.80 L584.30,37.10 L585.50,68.40 L586.70,77.60 L587.70,91.10 L589.50,90.50 L590.60,91.80 L591.80,112.80 L593.30,106.80 L594.70,103.80 L596.00,100.20 L597.50,96.60 L598.70,96.70 L600.10,94.00 L600.90,105.70 L602.60,104.00 L604.00,102.80 L606.00,103.30 L607.00,109.00 L608.20,102.10 L609.70,99.20 L610.40,105.70 L611.90,103.50 L613.30,102.80 L614.80,97.30 L615.80,93.70 L617.30,97.00 L619.20,95.50 L620.50,95.50 L621.10,102.50 L622.50,95.20 L624.30,94.00 L624.70,85.50 L626.40,86.00 L627.50,86.30 L628.50,88.00 L629.50,86.50 L631.50,90.00 L633.00,87.50 L634.50,90.50 L636.30,92.20 L637.50,88.00 L638.50,90.00 L640.00,86.00 L641.00,88.50 L642.00,85.20 L643.50,89.00 L645.00,87.00 L646.00,85.50 L647.50,90.00 L648.50,88.00 L650.20,93.50 L651.50,90.00 L653.00,88.50 L654.50,89.50 L656.00,89.00 L657.50,87.80 L659.00,90.00 L660.50,89.00 L662.00,93.20 L663.50,89.00 L665.50,87.50 L667.40,93.50 L668.50,88.00 L670.00,87.50 L671.50,89.00 L673.00,91.50 L675.00,90.00" fill="none" stroke="#9a30e0" stroke-width="0.75" stroke-linejoin="round" stroke-linecap="round" />
<circle cx="570.90" cy="29.10" r="0.95" fill="#8e00d6"/>
<circle cx="572.10" cy="25.30" r="0.95" fill="#8e00d6"/>
<circle cx="573.10" cy="27.80" r="0.95" fill="#8e00d6"/>
<circle cx="574.70" cy="21.70" r="0.95" fill="#8e00d6"/>
<circle cx="575.70" cy="24.90" r="0.95" fill="#8e00d6"/>
<circle cx="576.20" cy="27.20" r="0.95" fill="#8e00d6"/>
<circle cx="577.60" cy="24.60" r="0.95" fill="#8e00d6"/>
<circle cx="579.20" cy="27.50" r="0.95" fill="#8e00d6"/>
<circle cx="580.10" cy="27.50" r="0.95" fill="#8e00d6"/>
<circle cx="581.40" cy="30.00" r="0.95" fill="#8e00d6"/>
<circle cx="583.00" cy="27.80" r="0.95" fill="#8e00d6"/>
<circle cx="584.30" cy="37.10" r="0.95" fill="#8e00d6"/>
<circle cx="585.50" cy="68.40" r="0.95" fill="#8e00d6"/>
<circle cx="586.70" cy="77.60" r="0.95" fill="#8e00d6"/>
<circle cx="587.70" cy="91.10" r="0.95" fill="#8e00d6"/>
<circle cx="589.50" cy="90.50" r="0.95" fill="#8e00d6"/>
<circle cx="590.60" cy="91.80" r="0.95" fill="#8e00d6"/>
<circle cx="591.80" cy="112.80" r="0.95" fill="#8e00d6"/>
<circle cx="593.30" cy="106.80" r="0.95" fill="#8e00d6"/>
<circle cx="594.70" cy="103.80" r="0.95" fill="#8e00d6"/>
<circle cx="596.00" cy="100.20" r="0.95" fill="#8e00d6"/>
<circle cx="597.50" cy="96.60" r="0.95" fill="#8e00d6"/>
<circle cx="598.70" cy="96.70" r="0.95" fill="#8e00d6"/>
<circle cx="600.10" cy="94.00" r="0.95" fill="#8e00d6"/>
<circle cx="600.90" cy="105.70" r="0.95" fill="#8e00d6"/>
<circle cx="602.60" cy="104.00" r="0.95" fill="#8e00d6"/>
<circle cx="604.00" cy="102.80" r="0.95" fill="#8e00d6"/>
<circle cx="606.00" cy="103.30" r="0.95" fill="#8e00d6"/>
<circle cx="607.00" cy="109.00" r="0.95" fill="#8e00d6"/>
<circle cx="608.20" cy="102.10" r="0.95" fill="#8e00d6"/>
<circle cx="609.70" cy="99.20" r="0.95" fill="#8e00d6"/>
<circle cx="610.40" cy="105.70" r="0.95" fill="#8e00d6"/>
<circle cx="611.90" cy="103.50" r="0.95" fill="#8e00d6"/>
<circle cx="613.30" cy="102.80" r="0.95" fill="#8e00d6"/>
<circle cx="614.80" cy="97.30" r="0.95" fill="#8e00d6"/>
<circle cx="615.80" cy="93.70" r="0.95" fill="#8e00d6"/>
<circle cx="617.30" cy="97.00" r="0.95" fill="#8e00d6"/>
<circle cx="619.20" cy="95.50" r="0.95" fill="#8e00d6"/>
<circle cx="620.50" cy="95.50" r="0.95" fill="#8e00d6"/>
<circle cx="621.10" cy="102.50" r="0.95" fill="#8e00d6"/>
<circle cx="622.50" cy="95.20" r="0.95" fill="#8e00d6"/>
<circle cx="624.30" cy="94.00" r="0.95" fill="#8e00d6"/>
<circle cx="624.70" cy="85.50" r="0.95" fill="#8e00d6"/>
<circle cx="626.40" cy="86.00" r="0.95" fill="#8e00d6"/>
<circle cx="627.50" cy="86.30" r="0.95" fill="#8e00d6"/>
<circle cx="628.50" cy="88.00" r="0.95" fill="#8e00d6"/>
<circle cx="629.50" cy="86.50" r="0.95" fill="#8e00d6"/>
<circle cx="631.50" cy="90.00" r="0.95" fill="#8e00d6"/>
<circle cx="633.00" cy="87.50" r="0.95" fill="#8e00d6"/>
<circle cx="634.50" cy="90.50" r="0.95" fill="#8e00d6"/>
<circle cx="636.30" cy="92.20" r="0.95" fill="#8e00d6"/>
<circle cx="637.50" cy="88.00" r="0.95" fill="#8e00d6"/>
<circle cx="638.50" cy="90.00" r="0.95" fill="#8e00d6"/>
<circle cx="640.00" cy="86.00" r="0.95" fill="#8e00d6"/>
<circle cx="641.00" cy="88.50" r="0.95" fill="#8e00d6"/>
<circle cx="642.00" cy="85.20" r="0.95" fill="#8e00d6"/>
<circle cx="643.50" cy="89.00" r="0.95" fill="#8e00d6"/>
<circle cx="645.00" cy="87.00" r="0.95" fill="#8e00d6"/>
<circle cx="646.00" cy="85.50" r="0.95" fill="#8e00d6"/>
<circle cx="647.50" cy="90.00" r="0.95" fill="#8e00d6"/>
<circle cx="648.50" cy="88.00" r="0.95" fill="#8e00d6"/>
<circle cx="650.20" cy="93.50" r="0.95" fill="#8e00d6"/>
<circle cx="651.50" cy="90.00" r="0.95" fill="#8e00d6"/>
<circle cx="653.00" cy="88.50" r="0.95" fill="#8e00d6"/>
<circle cx="654.50" cy="89.50" r="0.95" fill="#8e00d6"/>
<circle cx="656.00" cy="89.00" r="0.95" fill="#8e00d6"/>
<circle cx="657.50" cy="87.80" r="0.95" fill="#8e00d6"/>
<circle cx="659.00" cy="90.00" r="0.95" fill="#8e00d6"/>
<circle cx="660.50" cy="89.00" r="0.95" fill="#8e00d6"/>
<circle cx="662.00" cy="93.20" r="0.95" fill="#8e00d6"/>
<circle cx="663.50" cy="89.00" r="0.95" fill="#8e00d6"/>
<circle cx="665.50" cy="87.50" r="0.95" fill="#8e00d6"/>
<circle cx="667.40" cy="93.50" r="0.95" fill="#8e00d6"/>
<circle cx="668.50" cy="88.00" r="0.95" fill="#8e00d6"/>
<circle cx="670.00" cy="87.50" r="0.95" fill="#8e00d6"/>
<circle cx="671.50" cy="89.00" r="0.95" fill="#8e00d6"/>
<circle cx="673.00" cy="91.50" r="0.95" fill="#8e00d6"/>
<circle cx="675.00" cy="90.00" r="0.95" fill="#8e00d6"/>
<line x1="588" y1="27.6" x2="597.1" y2="27.6" stroke="#e8261c" stroke-width="1.2"/>
<path d="M584.3,27.6 L588.6,25.8 L588.6,29.4 Z" fill="#e8261c"/>
<text x="599.8" y="29.8" font-size="8.8" fill="#222" text-anchor="start" textLength="29.4" lengthAdjust="spacingAndGlyphs" >Tumble</text>
<line x1="559" y1="78" x2="568" y2="78" stroke="#e8261c" stroke-width="1.3"/>
<path d="M555.6,78 L559.8,76.1 L559.8,79.9 Z" fill="#e8261c"/>
<text x="32.4" y="226.8" font-size="13" font-weight="bold" fill="#000" stroke="#000" stroke-width="0.35">c</text>
<text x="62.5" y="227.6" font-size="9" fill="#222" text-anchor="start" textLength="110.5" lengthAdjust="spacingAndGlyphs" >Two run-and-tumble events</text>
<line x1="104.8" y1="264" x2="104.8" y2="345" stroke="#444" stroke-width="1" stroke-dasharray="2.8 2.5" stroke-dashoffset="1.7"/>
<line x1="177.3" y1="264" x2="177.3" y2="345.6" stroke="#444" stroke-width="1" stroke-dasharray="2.8 2.5" stroke-dashoffset="1.2"/>
<path d="M43.30,273.75 L105.00,273.75" fill="none" stroke="#0000ff" stroke-width="1.35" stroke-linejoin="round" stroke-linecap="round" />
<path d="M105.00,273.75 L116.00,302.40" fill="none" stroke="#ff1a1a" stroke-width="1.35" stroke-linejoin="round" stroke-linecap="round" />
<path d="M116.00,302.40 L177.60,302.40" fill="none" stroke="#2e9a2e" stroke-width="1.35" stroke-linejoin="round" stroke-linecap="round" />
<path d="M177.60,302.40 L188.80,332.20" fill="none" stroke="#ffcc00" stroke-width="1.35" stroke-linejoin="round" stroke-linecap="round" />
<line x1="108.5" y1="332.9" x2="174" y2="332.9" stroke="#777" stroke-width="1.1"/>
<path d="M105.8,332.9 L110,331.3 L110,334.5 Z M176.8,332.9 L172.6,331.3 L172.6,334.5 Z" fill="#111"/>
<text x="136.6" y="327.2" font-size="9.5" font-style="italic" fill="#222">τ<tspan font-style="normal" font-size="6" dy="2.6">p</tspan></text>
<line x1="32.5" y1="232.4" x2="203.0" y2="232.4" stroke="#555" stroke-width="1"/>
<line x1="32.5" y1="232.4" x2="32.5" y2="351.4" stroke="#555" stroke-width="1"/>
<line x1="32.5" y1="351.4" x2="203.0" y2="351.4" stroke="#555" stroke-width="1"/>
<line x1="203.0" y1="232.4" x2="203.0" y2="351.4" stroke="#c4c4c4" stroke-width="1.6"/>
<text x="107.6" y="362.9" font-size="9.9" fill="#222" text-anchor="start" textLength="20.1" lengthAdjust="spacingAndGlyphs" >Time</text>
<text transform="translate(28.7,291.3) rotate(-90)" font-size="9" font-style="italic" fill="#222" text-anchor="middle">E</text>
<rect x="105.1" y="234.3" width="96.1" height="23.30000000000001" fill="#fff" stroke="#555" stroke-width="0.6"/>
<text class="sm" x="188.3" y="238.80" font-size="5" fill="#222" text-anchor="end" textLength="31.7" lengthAdjust="spacingAndGlyphs">Stress buildup</text>
<line x1="191.2" y1="237.3" x2="198.4" y2="237.3" stroke="#0000ff" stroke-width="0.9"/>
<text class="sm" x="188.3" y="244.40" font-size="5" fill="#222" text-anchor="end" textLength="30.1" lengthAdjust="spacingAndGlyphs">Stress release</text>
<line x1="191.2" y1="242.9" x2="198.4" y2="242.9" stroke="#ff2020" stroke-width="0.9"/>
<text class="sm" x="188.3" y="250.00" font-size="5" fill="#222" text-anchor="end" textLength="82.0" lengthAdjust="spacingAndGlyphs">Stress buildup in switchead  direction</text>
<line x1="191.2" y1="248.5" x2="198.4" y2="248.5" stroke="#2e9a2e" stroke-width="0.9"/>
<text class="sm" x="188.3" y="255.70" font-size="5" fill="#222" text-anchor="end" textLength="30.1" lengthAdjust="spacingAndGlyphs">Stress release</text>
<line x1="191.2" y1="254.2" x2="198.4" y2="254.2" stroke="#ffcc00" stroke-width="0.9"/>
<text x="217.4" y="226.7" font-size="13" font-weight="bold" fill="#000" stroke="#000" stroke-width="0.35">d</text>
<text x="248.8" y="228.3" font-size="9" fill="#222" text-anchor="start" textLength="108.7" lengthAdjust="spacingAndGlyphs" >One oscillatory shear cycle</text>
<path d="M218.20,315.80 L228.40,326.30 L228.70,308.80 L235.00,314.60 L242.30,321.20 L251.10,327.80 L251.60,324.90 L254.00,326.30 L259.90,329.30 L266.50,331.90 L266.90,323.40 L268.70,324.10 L270.40,323.00 L271.90,324.10 L273.50,323.40 L276.30,324.10 L276.70,321.20 L279.00,321.70 L281.90,322.70 L283.00,320.50 L286.20,321.70 L292.10,322.20 L298.00,322.20 L298.70,318.30 L303.80,317.60" fill="none" stroke="#2e9a2e" stroke-width="1.2" stroke-linejoin="round" stroke-linecap="round" />
<path d="M218.20,315.80 L228.40,326.30 L230.60,329.30 L238.00,335.90 L245.30,341.00 L252.60,344.60 L259.90,347.10 L262.80,347.60 L264.30,349.80 L271.60,350.90 L278.90,351.20 L286.20,350.50 L293.60,349.00 L298.00,347.60 L299.40,349.00 L300.90,348.30 L301.60,349.80 L303.80,349.00" fill="none" stroke="#ffcc00" stroke-width="1.2" stroke-linejoin="round" stroke-linecap="round" />
<path d="M303.30,317.90 L308.80,316.60 L312.30,315.30 L314.30,313.90 L314.90,311.00 L316.60,309.20 L321.80,306.60 L323.50,304.60 L327.00,302.30 L332.10,299.70 L338.20,295.40 L342.50,292.50 L343.40,289.70 L346.80,286.80 L354.60,279.90 L355.80,277.60 L357.20,274.20 L364.10,267.80 L371.00,260.00 L380.00,248.50 L388.20,237.70" fill="none" stroke="#ff1a1a" stroke-width="1.2" stroke-linejoin="round" stroke-linecap="round" />
<path d="M303.10,271.40 L308.10,269.90 L316.80,266.30 L317.90,267.80 L322.20,265.90 L329.20,261.30 L329.60,264.50 L339.60,256.90 L341.00,258.00 L350.40,248.40 L351.50,252.20 L353.30,254.60 L357.80,250.60 L367.80,239.40 L368.10,247.20 L372.50,244.80 L378.60,237.10 L379.90,237.70 L384.00,232.70 L384.00,242.00" fill="none" stroke="#0000ff" stroke-width="1.2" stroke-linejoin="round" stroke-linecap="round" />
<line x1="217.8" y1="232.4" x2="388.3" y2="232.4" stroke="#6a6a6a" stroke-width="1"/>
<line x1="388.3" y1="232.4" x2="388.3" y2="351.4" stroke="#777" stroke-width="1.1"/>
<line x1="217.8" y1="351.4" x2="388.3" y2="351.4" stroke="#5a5a5a" stroke-width="1"/>
<line x1="217.8" y1="232.4" x2="217.8" y2="351.4" stroke="#b0b0b0" stroke-width="1.6"/>
<rect x="219.3" y="234.3" width="97.59999999999997" height="23.0" fill="#fff" stroke="#555" stroke-width="0.6"/>
<text class="sm" x="303.7" y="238.80" font-size="5" fill="#222" text-anchor="end" textLength="31.7" lengthAdjust="spacingAndGlyphs">Stress buildup</text>
<line x1="307" y1="237.3" x2="314.3" y2="237.3" stroke="#0000ff" stroke-width="0.9"/>
<text class="sm" x="303.7" y="244.40" font-size="5" fill="#222" text-anchor="end" textLength="30.1" lengthAdjust="spacingAndGlyphs">Stress release</text>
<line x1="307" y1="242.9" x2="314.3" y2="242.9" stroke="#ff2020" stroke-width="0.9"/>
<text class="sm" x="303.7" y="250.00" font-size="5" fill="#222" text-anchor="end" textLength="82.0" lengthAdjust="spacingAndGlyphs">Stress buildup in switchead  direction</text>
<line x1="307" y1="248.5" x2="314.3" y2="248.5" stroke="#2e9a2e" stroke-width="0.9"/>
<text class="sm" x="303.7" y="255.70" font-size="5" fill="#222" text-anchor="end" textLength="30.1" lengthAdjust="spacingAndGlyphs">Stress release</text>
<line x1="307" y1="254.2" x2="314.3" y2="254.2" stroke="#ffcc00" stroke-width="0.9"/>
<text x="285.8" y="363" font-size="8.6" fill="#222" textLength="34.5" lengthAdjust="spacingAndGlyphs"><tspan font-style="italic">γ</tspan> (strain)</text>
<text transform="translate(215.8,291.5) rotate(-90)" font-size="8.8" font-style="italic" fill="#222" text-anchor="middle">E</text>
<text x="399.4" y="226.9" font-size="13" font-weight="bold" fill="#000" stroke="#000" stroke-width="0.35">e</text>
<rect x="441.5" y="233.3" width="241.0" height="117.0" fill="none" stroke="#4d4d4d" stroke-width="1"/>
<line x1="441.5" y1="233.30" x2="443.5" y2="233.30" stroke="#4d4d4d" stroke-width="0.8"/>
<text x="437.5" y="235.90" font-size="8" fill="#222" text-anchor="end" textLength="22.8" lengthAdjust="spacingAndGlyphs" >-6.950</text>
<line x1="441.5" y1="245.00" x2="443.5" y2="245.00" stroke="#4d4d4d" stroke-width="0.8"/>
<text x="437.5" y="247.60" font-size="8" fill="#222" text-anchor="end" textLength="22.8" lengthAdjust="spacingAndGlyphs" >-6.955</text>
<line x1="441.5" y1="256.70" x2="443.5" y2="256.70" stroke="#4d4d4d" stroke-width="0.8"/>
<text x="437.5" y="259.30" font-size="8" fill="#222" text-anchor="end" textLength="22.8" lengthAdjust="spacingAndGlyphs" >-6.960</text>
<line x1="441.5" y1="268.40" x2="443.5" y2="268.40" stroke="#4d4d4d" stroke-width="0.8"/>
<text x="437.5" y="271.00" font-size="8" fill="#222" text-anchor="end" textLength="22.8" lengthAdjust="spacingAndGlyphs" >-6.965</text>
<line x1="441.5" y1="280.10" x2="443.5" y2="280.10" stroke="#4d4d4d" stroke-width="0.8"/>
<text x="437.5" y="282.70" font-size="8" fill="#222" text-anchor="end" textLength="22.8" lengthAdjust="spacingAndGlyphs" >-6.970</text>
<line x1="441.5" y1="291.80" x2="443.5" y2="291.80" stroke="#4d4d4d" stroke-width="0.8"/>
<text x="437.5" y="294.40" font-size="8" fill="#222" text-anchor="end" textLength="22.8" lengthAdjust="spacingAndGlyphs" >-6.975</text>
<line x1="441.5" y1="303.50" x2="443.5" y2="303.50" stroke="#4d4d4d" stroke-width="0.8"/>
<text x="437.5" y="306.10" font-size="8" fill="#222" text-anchor="end" textLength="22.8" lengthAdjust="spacingAndGlyphs" >-6.980</text>
<line x1="441.5" y1="315.20" x2="443.5" y2="315.20" stroke="#4d4d4d" stroke-width="0.8"/>
<text x="437.5" y="317.80" font-size="8" fill="#222" text-anchor="end" textLength="22.8" lengthAdjust="spacingAndGlyphs" >-6.985</text>
<line x1="441.5" y1="326.90" x2="443.5" y2="326.90" stroke="#4d4d4d" stroke-width="0.8"/>
<text x="437.5" y="329.50" font-size="8" fill="#222" text-anchor="end" textLength="22.8" lengthAdjust="spacingAndGlyphs" >-6.990</text>
<line x1="441.5" y1="338.60" x2="443.5" y2="338.60" stroke="#4d4d4d" stroke-width="0.8"/>
<text x="437.5" y="341.20" font-size="8" fill="#222" text-anchor="end" textLength="22.8" lengthAdjust="spacingAndGlyphs" >-6.995</text>
<line x1="441.5" y1="350.30" x2="443.5" y2="350.30" stroke="#4d4d4d" stroke-width="0.8"/>
<text x="437.5" y="352.90" font-size="8" fill="#222" text-anchor="end" textLength="22.8" lengthAdjust="spacingAndGlyphs" >-7.000</text>
<line x1="444.40" y1="350.3" x2="444.40" y2="347.3" stroke="#4d4d4d" stroke-width="0.8"/>
<text x="439.70" y="360.2" font-size="7.1" fill="#222">10<tspan font-size="4.9" dy="-3">0</tspan></text>
<line x1="463.97" y1="350.3" x2="463.97" y2="348.7" stroke="#4d4d4d" stroke-width="0.6"/>
<line x1="475.41" y1="350.3" x2="475.41" y2="348.7" stroke="#4d4d4d" stroke-width="0.6"/>
<line x1="483.53" y1="350.3" x2="483.53" y2="348.7" stroke="#4d4d4d" stroke-width="0.6"/>
<line x1="489.83" y1="350.3" x2="489.83" y2="348.7" stroke="#4d4d4d" stroke-width="0.6"/>
<line x1="494.98" y1="350.3" x2="494.98" y2="348.7" stroke="#4d4d4d" stroke-width="0.6"/>
<line x1="499.33" y1="350.3" x2="499.33" y2="348.7" stroke="#4d4d4d" stroke-width="0.6"/>
<line x1="503.10" y1="350.3" x2="503.10" y2="348.7" stroke="#4d4d4d" stroke-width="0.6"/>
<line x1="506.43" y1="350.3" x2="506.43" y2="348.7" stroke="#4d4d4d" stroke-width="0.6"/>
<line x1="509.40" y1="350.3" x2="509.40" y2="347.3" stroke="#4d4d4d" stroke-width="0.8"/>
<text x="504.70" y="360.2" font-size="7.1" fill="#222">10<tspan font-size="4.9" dy="-3">1</tspan></text>
<line x1="528.97" y1="350.3" x2="528.97" y2="348.7" stroke="#4d4d4d" stroke-width="0.6"/>
<line x1="540.41" y1="350.3" x2="540.41" y2="348.7" stroke="#4d4d4d" stroke-width="0.6"/>
<line x1="548.53" y1="350.3" x2="548.53" y2="348.7" stroke="#4d4d4d" stroke-width="0.6"/>
<line x1="554.83" y1="350.3" x2="554.83" y2="348.7" stroke="#4d4d4d" stroke-width="0.6"/>
<line x1="559.98" y1="350.3" x2="559.98" y2="348.7" stroke="#4d4d4d" stroke-width="0.6"/>
<line x1="564.33" y1="350.3" x2="564.33" y2="348.7" stroke="#4d4d4d" stroke-width="0.6"/>
<line x1="568.10" y1="350.3" x2="568.10" y2="348.7" stroke="#4d4d4d" stroke-width="0.6"/>
<line x1="571.43" y1="350.3" x2="571.43" y2="348.7" stroke="#4d4d4d" stroke-width="0.6"/>
<line x1="574.40" y1="350.3" x2="574.40" y2="347.3" stroke="#4d4d4d" stroke-width="0.8"/>
<text x="569.70" y="360.2" font-size="7.1" fill="#222">10<tspan font-size="4.9" dy="-3">2</tspan></text>
<line x1="593.97" y1="350.3" x2="593.97" y2="348.7" stroke="#4d4d4d" stroke-width="0.6"/>
<line x1="605.41" y1="350.3" x2="605.41" y2="348.7" stroke="#4d4d4d" stroke-width="0.6"/>
<line x1="613.53" y1="350.3" x2="613.53" y2="348.7" stroke="#4d4d4d" stroke-width="0.6"/>
<line x1="619.83" y1="350.3" x2="619.83" y2="348.7" stroke="#4d4d4d" stroke-width="0.6"/>
<line x1="624.98" y1="350.3" x2="624.98" y2="348.7" stroke="#4d4d4d" stroke-width="0.6"/>
<line x1="629.33" y1="350.3" x2="629.33" y2="348.7" stroke="#4d4d4d" stroke-width="0.6"/>
<line x1="633.10" y1="350.3" x2="633.10" y2="348.7" stroke="#4d4d4d" stroke-width="0.6"/>
<line x1="636.43" y1="350.3" x2="636.43" y2="348.7" stroke="#4d4d4d" stroke-width="0.6"/>
<line x1="639.40" y1="350.3" x2="639.40" y2="347.3" stroke="#4d4d4d" stroke-width="0.8"/>
<text x="634.70" y="360.2" font-size="7.1" fill="#222">10<tspan font-size="4.9" dy="-3">3</tspan></text>
<line x1="658.97" y1="350.3" x2="658.97" y2="348.7" stroke="#4d4d4d" stroke-width="0.6"/>
<line x1="670.41" y1="350.3" x2="670.41" y2="348.7" stroke="#4d4d4d" stroke-width="0.6"/>
<line x1="678.53" y1="350.3" x2="678.53" y2="348.7" stroke="#4d4d4d" stroke-width="0.6"/>
<text x="557.6" y="371.9" font-size="9.3" font-style="italic" fill="#222">τ<tspan font-style="normal" font-size="6" dy="2.6">p</tspan></text>
<text transform="translate(408.2,291.7) rotate(-90)" font-size="8.6" font-style="italic" fill="#222" text-anchor="middle">U/N</text>
<text x="609.5" y="230.2" font-size="7.6" fill="#222" textLength="71.8" lengthAdjust="spacingAndGlyphs"><tspan font-style="italic">N</tspan> = 10,000; <tspan font-style="italic">n</tspan> = 16</text>
<text x="475.2" y="260.7" font-size="8.6" fill="#222" font-style="italic">f</text>
<text x="478.3" y="262.9" font-size="7" fill="#222">0</text>
<text x="484.3" y="260.7" font-size="8.6" fill="#222" textLength="16.8" lengthAdjust="spacingAndGlyphs">= 1.4</text>
<text x="519.9" y="247.8" font-size="7" fill="#222" textLength="69.4" lengthAdjust="spacingAndGlyphs">Energies after <tspan font-style="italic">t</tspan> = 10<tspan font-size="4.6" dy="-2.8">5</tspan></text>
<line x1="592.6" y1="244.7" x2="610.6" y2="244.7" stroke="#bb66ee" stroke-width="0.8"/>
<line x1="592.6" y1="242.7" x2="592.6" y2="246.7" stroke="#bb66ee" stroke-width="0.8"/>
<line x1="610.6" y1="242.7" x2="610.6" y2="246.7" stroke="#bb66ee" stroke-width="0.8"/>
<circle cx="601.4" cy="244.7" r="2.6" fill="#8e00d6"/>
<path d="M444.40,297.00 L463.97,331.30 L483.53,342.50 L509.40,344.20 L548.53,330.80 L613.53,293.30 L678.53,239.50" fill="none" stroke="#bb66ee" stroke-width="0.8" stroke-linejoin="round" stroke-linecap="round" />
<line x1="444.40" y1="293.40" x2="444.40" y2="300.60" stroke="#bb66ee" stroke-width="0.8"/>
<line x1="441.70" y1="293.40" x2="447.10" y2="293.40" stroke="#bb66ee" stroke-width="0.8"/>
<line x1="441.70" y1="300.60" x2="447.10" y2="300.60" stroke="#bb66ee" stroke-width="0.8"/>
<circle cx="444.40" cy="297.00" r="2.6" fill="#8e00d6"/>
<line x1="463.97" y1="325.10" x2="463.97" y2="337.50" stroke="#bb66ee" stroke-width="0.8"/>
<line x1="461.27" y1="325.10" x2="466.67" y2="325.10" stroke="#bb66ee" stroke-width="0.8"/>
<line x1="461.27" y1="337.50" x2="466.67" y2="337.50" stroke="#bb66ee" stroke-width="0.8"/>
<circle cx="463.97" cy="331.30" r="2.6" fill="#8e00d6"/>
<line x1="483.53" y1="337.50" x2="483.53" y2="347.50" stroke="#bb66ee" stroke-width="0.8"/>
<line x1="480.83" y1="337.50" x2="486.23" y2="337.50" stroke="#bb66ee" stroke-width="0.8"/>
<line x1="480.83" y1="347.50" x2="486.23" y2="347.50" stroke="#bb66ee" stroke-width="0.8"/>
<circle cx="483.53" cy="342.50" r="2.6" fill="#8e00d6"/>
<line x1="509.40" y1="340.90" x2="509.40" y2="347.50" stroke="#bb66ee" stroke-width="0.8"/>
<line x1="506.70" y1="340.90" x2="512.10" y2="340.90" stroke="#bb66ee" stroke-width="0.8"/>
<line x1="506.70" y1="347.50" x2="512.10" y2="347.50" stroke="#bb66ee" stroke-width="0.8"/>
<circle cx="509.40" cy="344.20" r="2.6" fill="#8e00d6"/>
<line x1="548.53" y1="327.60" x2="548.53" y2="334.00" stroke="#bb66ee" stroke-width="0.8"/>
<line x1="545.83" y1="327.60" x2="551.23" y2="327.60" stroke="#bb66ee" stroke-width="0.8"/>
<line x1="545.83" y1="334.00" x2="551.23" y2="334.00" stroke="#bb66ee" stroke-width="0.8"/>
<circle cx="548.53" cy="330.80" r="2.6" fill="#8e00d6"/>
<line x1="613.53" y1="289.50" x2="613.53" y2="297.10" stroke="#bb66ee" stroke-width="0.8"/>
<line x1="610.83" y1="289.50" x2="616.23" y2="289.50" stroke="#bb66ee" stroke-width="0.8"/>
<line x1="610.83" y1="297.10" x2="616.23" y2="297.10" stroke="#bb66ee" stroke-width="0.8"/>
<circle cx="613.53" cy="293.30" r="2.6" fill="#8e00d6"/>
<line x1="678.53" y1="235.40" x2="678.53" y2="243.60" stroke="#bb66ee" stroke-width="0.8"/>
<line x1="675.83" y1="235.40" x2="681.23" y2="235.40" stroke="#bb66ee" stroke-width="0.8"/>
<line x1="675.83" y1="243.60" x2="681.23" y2="243.60" stroke="#bb66ee" stroke-width="0.8"/>
<circle cx="678.53" cy="239.50" r="2.6" fill="#8e00d6"/>
</svg>
</body></html>
